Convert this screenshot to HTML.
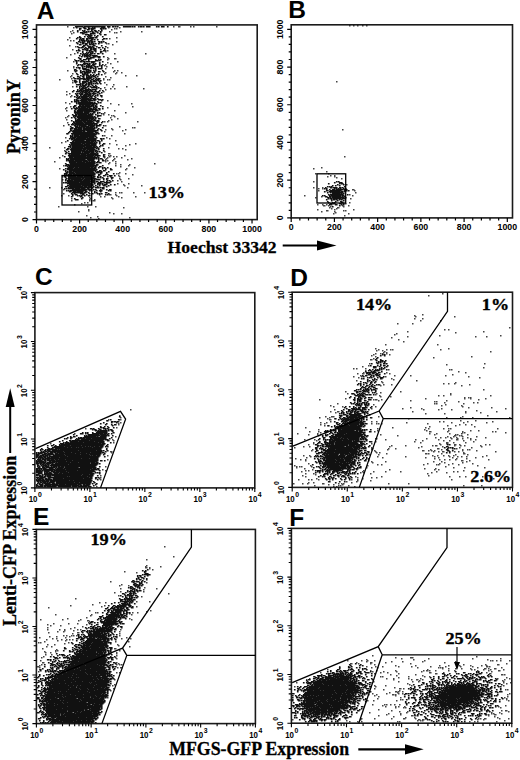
<!DOCTYPE html><html><head><meta charset="utf-8"><style>
html,body{margin:0;padding:0;background:#fff}
body{width:520px;height:760px;overflow:hidden}
svg{display:block}
text{font-family:"Liberation Sans",sans-serif}
.tl text{font-size:8.8px;text-anchor:middle;fill:#000;font-weight:bold}
.tl .sp{font-size:8px}
.lg text{font-size:9.2px}
.pl text{font-family:"Liberation Sans",sans-serif;font-weight:bold;font-size:24.5px}
.pc text{font-family:"Liberation Serif",serif;font-weight:bold;font-size:17.5px;stroke:#000;stroke-width:.35px}
.ax text{font-family:"Liberation Serif",serif;font-weight:bold;font-size:18px;stroke:#000;stroke-width:.3px}
</style></head><body><svg width="520" height="760" viewBox="0 0 520 760">
<path transform="translate(.75 .75)" stroke="#444" stroke-width="1.55" stroke-linecap="square" fill="none" d="M0 0m349 25h0m4 0h0m4 0h0m5 0h0m4 0h0m-299 1h0m106 0h0m5 0h1m11 0h0m3 0h0m23 0h0m-143 1h0m35 0h0m11 0h0m-5 1h0m2 0h0m-5 1h0m-39 1h0m-2 1h0m39 0h0m11 0h0m21 0h0m-68 1h0m41 0h0m2 0h0m-45 1h0m-2 4h0m47 0h0m-7 1h0m-42 1h0m3 1h0m3 0h0m43 1h0m-10 2h0m2 0h0m4 1h0m-43 1h0m6 1h0m32 1h0m-35 2h0m33 1h0m2 0h0m-2 1h0m-31 2h0m40 0h0m31 0h0m-75 1h0m-4 3h0m41 0h0m1 1h0m6 0h1m-41 1h0m33 0h0m-34 2h0m44 0h0m-10 1h0m3 1h0m-5 1h0m-1 1h0m-31 1h0m33 0h0m-33 1h0m39 0h0m-7 1h0m-38 2h0m47 0h0m3 0h0m-4 1h0m-8 1h0m11 0h0m5 0h0m-49 1h0m32 0h0m11 0h0m-44 2h0m54 0h0m11 0h0m-66 1h0m35 0h0m5 1h0m-39 1h0m32 0h0m-44 1h0m44 0h0m4 0h0m2 0h0m-37 1h0m264 1h0m-264 1h0m32 0h0m2 2h0m7 0h0m-41 2h0m40 0h0m14 0h0m-22 1h0m6 1h0m4 0h0m29 0h0m-38 1h0m-39 2h0m37 0h0m-34 2h0m-3 1h0m5 1h0m-1 1h0m37 4h0m-42 2h0m4 1h0m41 0h0m21 0h0m-13 1h0m-48 2h0m62 0h0m-66 1h0m41 0h0m-42 1h0m1 2h0m48 0h0m-10 2h0m21 0h0m-22 1h0m0 1h0m5 0h0m-40 1h0m43 0h0m2 0h0m-46 1h0m47 0h0m-49 1h0m45 0h0m7 1h0m-51 1h0m45 0h0m-3 1h0m-4 1h0m3 0h0m30 0h0m-70 1h0m-4 3h0m42 0h0m14 1h0m13 1h0m2 0h0m-23 1h0m-6 1h0m7 0h0m13 0h0m217 0h0m-220 1h0m-18 1h0m-38 2h0m58 0h0m-20 2h0m7 0h0m-46 2h0m41 0h0m3 1h0m6 2h0m-50 1h0m-4 1h0m43 1h0m5 0h0m26 0h0m-19 1h0m13 0h0m-4 1h0m-76 2h0m15 0h0m44 0h0m10 1h0m4 0h0m3 1h0m-61 1h0m40 1h0m4 2h1m-5 1h0m-42 1h0m46 0h0m2 0h0m14 0h0m-20 1h0m5 0h0m4 0h0m3 0h0m228 0h0m-285 1h0m45 0h0m3 0h0m14 0h0m-15 1h0m8 0h0m17 0h0m-26 1h0m8 0h0m14 0h0m-22 1h0m2 0h0m5 0h0m-58 1h0m51 0h0m10 0h0m-6 1h0m-1 1h0m7 0h0m39 0h0m-34 1h0m9 0h0m-66 1h0m52 0h0m13 0h0m-8 1h0m14 1h0m187 0h0m-262 1h0m67 0h0m187 0h0m-188 1h0m201 2h0m-207 1h0m-3 1h0m2 0h0m7 0h0m190 0h0m13 0h0m-196 1h0m-14 1h0m212 0h0m4 0h0m-272 1h0m57 0h0m208 0h0m7 0h0m2 1h0m-217 1h0m9 0h0m213 0h0m-279 1h0m58 0h0m-3 1h0m4 1h0m192 0h0m-196 2h0m11 0h0m-5 1h0m223 0h0m-222 1h0m17 0h0m-92 2h0m12 0h0m66 0h0m186 0h0m9 0h0m-4 1h0m4 0h0m-259 1h0m289 0h1m-35 1h0m36 0h0m-239 2h0m4 0h0m2 0h0m12 0h0m11 0h0m211 0h0m-292 1h0m46 1h1m5 0h0m234 0h0m-288 1h0m7 0h0m48 0h0m188 0h0m48 0h0m-252 1h0m4 0h0m14 0h0m17 0h0m186 0h0m-232 1h0m22 0h0m10 0h0m194 0h0m-244 1h0m19 0h0m22 0h0m238 0h0m-261 1h0m5 0h0m-23 1h0m18 0h0m2 0h0m2 0h1m-10 2h0m3 0h0m262 0h0m-268 1h0m264 0h0m-271 1h0m243 0h0m5 0h0m4 0h0m-3 1h1m4 0h0m14 0h0m6 0h0m-290 1h0m29 0h0m8 0h0m235 0h0m13 0h0m-220 1h0m206 0h0m8 0h1m-7 1h0m5 0h0m-248 1h0m229 0h0m17 0h0m19 0h0m-265 1h0m238 0h1m16 0h0m2 0h0m-267 1h0m243 0h0m13 0h0m-225 1h0m226 0h0m-222 1h0m8 0h0m212 0h0m15 0h0m-262 2h0m258 0h0m-247 1h0m-7 1h0m39 0h0m-31 1h0m344 75h0m-14 2h0m-6 19h0m-8 1h0m1 1h0m39 0h0m-40 2h0m8 0h0m-2 2h0m20 0h0m-43 3h0m15 0h0m97 4h0m-65 2h0m4 0h0m-41 2h0m76 0h0m-28 1h0m-59 1h0m-2 1h0m45 1h0m61 0h0m-93 1h0m68 0h0m11 0h0m-95 1h0m7 2h0m5 2h0m-18 3h0m52 0h0m-62 4h0m73 0h0m-70 1h0m8 0h0m4 0h0m2 0h0m48 0h0m-64 1h0m6 0h0m2 1h0m106 0h0m-107 1h0m3 0h0m-11 1h0m5 0h0m2 0h0m4 0h0m-13 1h0m16 0h0m-18 1h0m4 1h0m96 0h0m-38 1h0m-60 1h0m-3 1h1m-2 4h0m115 0h0m-38 1h0m-78 1h0m-6 1h0m121 1h0m-130 1h0m3 0h0m9 0h0m23 1h0m61 0h0m2 0h0m-86 1h0m93 1h0m-95 1h0m23 0h0m79 0h0m-108 1h0m5 0h1m26 0h0m63 1h0m-92 1h0m34 0h0m16 0h0m35 0h0m-92 1h0m8 0h0m24 0h0m83 0h0m-110 1h0m121 0h0m-88 1h0m2 1h0m-37 1h0m60 0h0m-35 1h0m1 1h0m73 0h0m-12 1h0m5 0h0m6 0h0m-75 1h0m4 0h0m8 0h0m78 0h0m-89 1h0m81 0h0m22 4h0m-138 2h0m55 0h0m-20 1h0m-33 1h0m4 0h0m25 0h0m74 0h0m-75 1h0m75 0h0m-71 1h0m59 0h0m5 0h0m47 0h0m-110 1h0m10 0h0m74 1h0m4 0h0m2 0h0m-125 1h0m80 0h0m39 0h0m6 0h0m15 0h0m-166 1h0m54 0h0m2 0h1m5 0h0m97 0h0m-100 1h0m32 0h0m36 0h0m-12 1h0m2 0h0m22 0h0m-14 1h0m29 0h0m4 0h0m-140 1h0m97 0h0m2 0h0m27 0h0m-90 1h0m72 0h0m-115 1h0m111 0h0m20 0h0m-128 1h0m9 0h0m33 0h0m87 0h0m-52 1h0m58 0h0m23 0h0m-120 1h0m31 0h0m19 0h0m20 0h0m64 0h0m-375 1h0m204 0h0m89 0h0m15 0h0m13 0h0m25 1h0m-146 1h0m7 0h1m74 0h0m53 0h0m31 0h0m-161 1h0m130 0h0m15 0h0m-55 1h0m19 0h0m-325 2h0m368 0h0m-162 1h0m6 0h2m45 0h0m84 0h0m-342 1h0m199 0h0m10 0h0m42 0h0m75 0h0m14 0h0m12 0h0m37 0h0m-182 1h0m7 0h0m74 0h0m-300 1h0m11 0h1m209 0h1m-224 1h0m354 0h0m15 0h0m-357 1h0m212 0h0m41 0h0m5 0h0m63 0h0m4 0h0m24 0h0m25 0h0m-372 1h0m200 0h0m6 0h0m80 0h0m45 0h0m12 0h0m23 0h0m-368 1h0m206 0h0m47 0h0m5 0h0m2 0h0m3 0h0m46 0h0m-309 1h0m202 0h0m139 0h0m6 0h0m6 0h0m-147 1h0m3 0h0m120 0h0m8 0h0m-26 1h0m45 0h0m-358 1h0m189 0h0m87 0h0m33 0h0m-340 1h0m292 0h0m51 0h0m15 0h0m5 0h0m2 0h0m47 0h0m-179 1h0m106 0h0m-47 1h0m49 0h0m22 0h0m22 0h0m8 0h0m-169 1h0m9 0h0m56 0h0m55 0h1m17 0h0m15 0h0m30 0h0m3 0h0m-175 1h0m142 0h0m2 0h0m41 0h0m-431 1h0m223 0h0m20 0h0m112 0h0m7 0h0m13 0h0m12 0h0m-153 1h0m9 0h0m3 0h0m60 0h0m54 0h0m21 0h0m2 0h0m10 0h0m-149 1h0m79 0h0m57 0h1m4 0h0m2 0h0m-346 1h0m332 0h0m6 0h0m9 0h0m14 0h0m-41 1h0m5 0h0m5 0h0m5 0h0m6 0h0m11 0h0m18 0h0m-110 1h1m50 0h0m25 0h0m6 0h0m5 0h0m8 0h0m-358 1h0m192 0h0m10 0h0m71 0h0m30 0h0m23 0h0m18 0h1m13 0h0m5 0h0m-362 1h0m203 0h0m106 0h0m21 0h0m6 0h0m14 0h0m-92 1h0m4 0h0m39 0h0m59 0h0m-360 1h0m200 0h0m107 0h0m26 0h1m6 0h0m12 0h0m-415 1h0m263 0h0m58 0h0m68 0h0m7 0h1m-139 1h0m132 0h0m14 0h1m4 0h0m26 0h0m4 0h0m-98 1h0m14 0h0m27 0h0m3 0h1m18 0h0m6 0h0m4 0h0m16 0h0m-177 1h0m6 0h0m80 0h0m32 0h0m21 0h0m39 0h0m-187 1h0m77 0h0m47 0h0m41 0h0m12 0h0m-100 1h1m16 0h0m7 0h0m42 0h1m18 0h0m-144 1h0m59 0h0m16 0h0m43 0h0m11 0h0m21 0h0m5 0h0m2 0h0m-158 1h0m63 0h0m48 0h1m5 0h0m3 0h0m3 0h0m28 0h0m14 0h0m-366 1h1m264 0h0m58 0h0m5 0h0m4 0h1m11 0h0m4 0h0m37 0h0m-384 1h0m265 0h0m3 0h0m84 0h0m-77 1h0m39 0h1m2 0h0m13 0h0m22 0h1m-95 1h0m9 0h0m77 0h0m12 0h0m-360 1h0m196 0h0m6 0h0m123 0h0m5 0h0m6 0h0m5 0h0m5 0h0m33 0h0m-176 1h0m67 0h0m28 0h0m29 0h0m15 0h0m8 0h0m4 0h0m5 0h0m16 0h0m-176 1h0m76 0h0m43 0h0m13 0h0m14 0h0m23 0h0m-180 1h0m73 0h0m66 0h0m22 0h0m10 0h0m-359 1h0m193 0h0m5 0h0m63 0h0m71 0h0m5 0h0m5 0h0m6 0h0m33 0h0m-183 1h0m63 0h0m93 0h1m7 0h0m-98 1h0m14 0h0m48 0h0m8 0h0m25 0h0m-94 1h0m72 0h0m18 0h0m-154 1h0m119 0h0m12 0h0m13 0h0m20 0h0m-95 1h0m4 0h0m42 0h0m13 0h0m2 0h0m10 0h0m10 0h0m-164 1h0m16 0h0m57 0h0m110 0h0m-372 1h0m191 0h0m3 0h0m2 0h0m10 0h0m134 0h0m-149 1h0m70 0h0m87 0h0m11 0h0m20 0h0m-180 1h0m120 0h0m11 0h0m-333 1h0m210 0h0m77 0h0m45 0h0m4 0h0m-333 1h0m200 0h0m3 0h0m55 0h0m100 0h0m-162 1h0m61 0h0m11 0h0m12 0h0m15 0h0m36 0h0m17 0h0m4 0h0m-97 1h0m3 0h0m68 0h0m15 0h0m-141 1h0m8 0h0m57 0h0m57 0h0m-112 1h0m-215 1h0m202 0h0m126 0h0m-123 1h0m50 0h0m26 0h0m68 0h0m10 0h0m6 0h0m17 0h0m-382 1h0m257 0h0m14 0h0m5 0h0m-277 1h0m217 0h0m46 0h0m131 0h0m-393 1h0m198 0h0m10 0h0m3 0h0m7 0h0m33 0h0m6 0h0m94 0h0m-94 1h0m13 0h0m-24 1h0m10 0h0m-48 1h0m5 0h0m38 0h0m-58 1h0m9 0h0m5 0h0m15 0h1m15 0h0m3 0h0m2 0h0m45 0h0m20 0h0m-80 1h0m5 0h0m9 0h0m-28 1h0m24 0h0m2 0h0m8 0h0m115 0h0m18 0h0m-385 1h0m237 0h0m3 0h0m18 0h0m-190 60h0m9 10h0m-27 3h0m0 6h0m-1 1h0m15 0h0m-15 1h1m3 0h0m0 1h0m3 1h0m-28 2h0m12 1h0m-4 8h0m-22 1h0m21 0h0m15 1h0m-25 2h0m-2 1h0m9 0h0m16 2h0m-24 1h0m36 0h0m-13 1h0m-23 2h0m23 0h0m-29 1h0m54 1h0m-50 2h0m23 1h0m-66 2h0m61 3h0m13 0h0m-50 1h0m6 0h0m-13 2h0m-22 1h0m34 0h0m-3 1h0m35 0h0m-88 1h0m41 3h0m61 0h0m-4 1h0m-51 1h0m2 0h0m35 0h0m5 0h0m-8 1h0m-74 1h0m36 0h0m40 0h0m-41 1h0m-4 2h0m-19 1h0m62 0h0m-89 1h0m22 0h0m18 0h0m51 0h0m-53 1h0m9 0h1m1 1h0m-1 1h0m-35 1h0m15 0h0m9 0h0m-30 1h0m39 0h0m-36 1h0m10 0h0m22 1h0m-35 1h0m27 0h0m-4 1h0m-23 1h0m12 0h0m5 0h0m13 0h0m3 0h0m40 0h0m-56 1h0m9 0h0m-16 1h0m6 0h0m56 0h0m-71 1h0m29 0h1m-6 1h0m47 0h0m-42 1h0m-14 1h0m3 0h0m5 0h0m2 0h0m3 0h0m43 0h0m-70 1h0m7 0h0m13 0h0m-30 1h0m26 0h0m51 0h0m10 0h0m-74 1h0m4 0h0m65 0h0m9 0h0m-84 1h0m15 0h0m5 0h0m3 0h0m3 0h0m-15 1h0m8 0h0m-21 1h0m71 0h0m13 0h0m-90 1h0m2 0h0m28 0h0m-4 1h0m-17 1h0m7 0h0m63 0h0m1 1h0m-72 1h0m5 0h0m78 0h0m-87 2h0m72 0h1m-59 1h0m-1 1h0m2 0h0m62 0h0m-75 1h0m11 0h0m-10 1h0m5 0h0m66 0h0m0 1h0m-71 1h0m6 0h0m65 1h0m256 0h0m-329 1h0m433 0h0m-435 1h0m74 0h0m280 0h0m15 0h2m-296 1h0m285 0h0m27 0h0m44 0h0m28 0h0m-134 1h0m47 0h0m74 0h0m-447 1h0m307 0h0m14 0h0m6 0h0m7 0h0m50 0h0m66 0h0m2 0h0m4 0h0m4 0h0m9 0h0m-143 1h0m25 0h0m11 0h0m20 0h0m33 0h0m-413 1h1m73 0h0m240 0h0m14 0h1m14 0h0m59 0h0m-326 1h0m232 0h1m7 0h0m12 0h0m40 0h0m96 0h0m-465 1h0m75 0h0m3 0h0m2 0h0m253 0h0m89 0h0m22 0h0m12 0h1m-459 1h0m356 0h0m20 0h0m24 0h0m9 0h0m11 0h0m11 0h0m11 0h0m5 0h0m-449 1h1m301 0h0m27 0h0m9 0h0m7 0h0m16 0h0m13 0h0m19 0h0m15 0h0m15 0h0m12 0h0m14 0h1m2 0h0m-450 1h0m78 0h0m3 0h1m250 0h0m6 0h0m40 0h0m21 0h0m2 0h0m2 0h0m14 0h0m21 0h0m24 0h0m-59 1h0m6 0h0m7 0h0m6 0h0m9 0h0m14 0h1m3 0h0m6 0h1m-456 1h0m288 0h0m100 0h0m44 0h0m3 0h0m9 0h0m7 0h0m13 0h0m-133 1h0m6 0h0m19 0h0m28 0h0m3 0h1m2 0h0m6 0h0m13 0h0m6 0h0m23 0h0m11 0h0m10 0h1m-461 1h0m334 0h0m11 0h0m13 0h0m25 0h0m70 0h0m-375 1h0m3 0h0m201 0h0m60 0h0m7 0h0m42 0h1m13 0h0m43 0h0m-112 1h0m24 0h0m37 0h1m53 0h1m-100 1h0m25 0h0m86 0h1m2 0h0m-108 1h0m26 0h0m-109 1h0m67 0h0m2 0h0m26 0h0m16 0h0m5 0h0m-31 1h0m108 0h0m-197 1h0m77 0h0m7 0h0m15 0h0m12 0h0m77 0h0m12 0h0m-395 1h0m192 0h0m87 0h0m18 0h0m5 0h1m5 0h0m82 0h0m-85 1h0m83 0h0m-129 1h0m25 0h0m14 0h0m6 0h0m85 0h0m-207 1h0m207 0h0m7 0h0m-103 1h0m99 0h0m-392 1h0m295 0h0m-297 1h0m262 0h0m11 0h0m26 0h0m92 0h0m-209 1h0m81 0h0m19 1h0m-281 1h0m261 0h0m25 0h1m3 0h0m-20 1h0m122 0h0m2 0h0m-397 1h0m289 0h0m-29 1h0m25 0h1m2 0h0m4 0h0m-13 1h0m8 0h0m-25 1h0m14 0h0m12 0h0m4 0h0m107 0h0m-141 1h0m8 0h0m16 0h1m2 0h0m112 0h0m-133 1h0m21 0h0m-17 1h0m129 0h0m-400 1h0m293 0h0m104 0h0m-127 1h0m129 0h0m-106 1h0m2 0h0m104 0h0m-139 1h0m6 0h0m23 0h0m112 0h0m-136 4h0m12 0h0m2 0h0m4 0h0m4 0h0m5 0h0m-17 1h0m123 0h0m-120 1h0m10 0h0m3 0h0m6 0h0m94 0h0m-103 1h0m8 0h0m2 0h0m95 0h0m-122 2h0m13 1h0m110 0h0m4 0h1m-107 1h0m8 0h0m101 0h0m-139 1h0m37 0h0m85 0h0m8 0h0m-111 1h0m12 0h0m91 0h0m2 0h0m8 0h0m-115 1h0m14 0h0m86 0h0m2 0h0m6 0h1m-117 1h0m33 0h1m2 0h1m73 0h0m-95 1h0m101 0h0m-89 1h0m9 0h0m83 0h0m-136 1h0m13 0h0m17 0h0m12 0h1m11 0h0m63 0h0m2 0h0m4 0h1m14 0h0m9 0h0m-216 1h0m68 0h0m58 0h1m3 0h1m54 0h0m6 0h0m-137 1h0m71 0h0m3 0h0m2 0h0m82 0h0m-155 1h0m8 0h0m4 0h0m36 0h0m2 0h0m70 0h0m5 0h0m3 0h0m19 0h0"/>
<path transform="translate(.75 .75)" stroke="#111" stroke-width="1.7" stroke-linecap="square" fill="none" d="M0 0m75 26h7m2 0h20m3 0h2m3 0h1m2 0h0m2 0h0m6 0h7m2 0h0m2 0h0m4 0h0m2 0h1m2 0h0m3 0h3m7 0h0m2 0h0m3 0h2m4 0h0m-91 1h0m7 0h1m4 0h0m4 0h0m2 0h0m7 0h3m-25 1h1m4 0h1m3 0h1m2 0h3m6 0h1m2 0h0m2 0h0m-26 1h0m8 0h1m3 0h1m9 0h0m-24 1h0m5 0h0m2 0h0m7 0h0m3 0h1m3 0h0m3 0h0m-24 1h0m6 0h1m2 0h0m2 0h0m2 0h0m2 0h0m3 0h1m4 0h0m-20 1h2m2 0h2m6 0h1m4 0h0m3 0h0m-18 1h1m7 0h4m5 0h0m-14 1h3m2 0h0m10 0h0m4 0h1m-17 1h3m3 0h0m3 0h0m-18 1h0m5 0h0m3 0h0m2 0h1m6 0h0m6 0h0m-25 1h0m2 0h1m8 0h0m2 0h3m2 0h1m-20 1h0m4 0h0m2 0h1m3 0h1m2 0h3m11 0h1m2 0h0m-27 1h0m2 0h0m2 0h0m3 0h1m4 0h1m2 0h0m3 0h0m5 0h0m-23 1h0m2 0h3m2 0h0m2 0h0m2 0h1m-13 1h1m3 0h0m2 0h0m3 0h2m2 0h1m2 0h0m4 0h1m2 0h0m2 0h0m-27 1h0m4 0h0m2 0h1m4 0h0m2 0h0m2 0h1m7 0h0m2 0h0m4 0h0m-28 1h0m5 0h1m2 0h1m3 0h0m2 0h0m2 0h0m2 0h0m3 0h0m-19 1h1m5 0h1m3 0h1m2 0h1m-10 1h1m3 0h0m6 0h1m7 0h0m-24 1h0m5 0h1m5 0h2m2 0h0m4 0h0m9 0h0m-27 1h1m2 0h1m3 0h0m3 0h3m2 0h0m5 0h1m3 0h0m-18 1h0m2 0h1m3 0h1m2 0h2m9 0h0m-26 1h0m4 0h1m2 0h0m2 0h0m3 0h1m2 0h2m5 0h0m4 0h0m-28 1h0m2 0h1m7 0h1m2 0h1m4 0h1m8 0h1m-22 1h0m7 0h0m2 0h1m3 0h0m5 0h1m-24 1h0m5 0h0m4 0h0m2 0h0m2 0h0m2 0h0m8 0h0m-20 1h0m3 0h0m2 0h0m2 0h0m3 0h2m2 0h0m3 0h1m4 0h0m-20 1h0m2 0h0m2 0h1m2 0h1m-11 1h0m3 0h0m2 0h4m2 0h0m2 0h4m-15 1h0m3 0h0m2 0h1m2 0h0m4 0h2m2 0h2m4 0h0m-25 1h0m9 0h0m3 0h3m5 0h1m-20 1h1m6 0h4m-10 1h0m3 0h2m3 0h0m7 0h0m3 0h0m2 0h0m-25 1h1m2 0h0m3 0h1m6 0h0m7 0h2m2 0h0m-23 1h0m4 0h1m2 0h1m2 0h3m2 0h3m8 0h0m-26 1h0m8 0h0m7 0h2m6 0h0m-23 1h0m7 0h4m2 0h0m4 0h0m2 0h0m4 0h0m-21 1h0m2 0h0m2 0h0m2 0h0m3 0h2m3 0h2m5 0h0m3 0h0m-25 1h0m4 0h1m4 0h0m2 0h1m2 0h0m2 0h0m6 0h0m2 0h0m-19 1h0m2 0h0m2 0h5m3 0h1m2 0h0m4 0h0m-25 1h0m2 0h1m3 0h0m4 0h0m2 0h0m2 0h2m3 0h0m6 0h0m-22 1h0m3 0h3m5 0h0m3 0h0m2 0h0m3 0h3m-27 1h1m8 0h5m7 0h0m-21 1h0m2 0h0m4 0h0m6 0h0m2 0h2m3 0h0m2 0h0m7 0h0m-27 1h0m5 0h0m2 0h2m2 0h2m2 0h0m4 0h0m4 0h1m4 0h0m-23 1h1m3 0h5m3 0h0m2 0h0m-18 1h0m6 0h0m2 0h1m2 0h0m11 0h0m-21 1h0m5 0h2m2 0h1m3 0h0m3 0h0m3 0h0m2 0h0m3 0h0m-21 1h0m3 0h0m3 0h2m2 0h0m2 0h1m2 0h0m-18 1h1m4 0h1m3 0h0m2 0h1m2 0h0m2 0h1m3 0h0m-24 1h0m6 0h0m4 0h0m3 0h5m4 0h0m-21 1h1m2 0h1m2 0h4m2 0h4m3 0h0m3 0h0m2 0h1m-20 1h0m4 0h2m2 0h1m3 0h1m3 0h0m2 0h1m-24 1h1m4 0h0m7 0h0m2 0h0m2 0h0m3 0h1m2 0h0m2 0h0m2 0h0m-26 1h2m3 0h0m3 0h5m3 0h1m2 0h2m4 0h0m-24 1h0m4 0h0m3 0h3m3 0h3m5 0h0m3 0h0m-19 1h0m2 0h1m3 0h0m2 0h1m2 0h0m2 0h0m2 0h0m2 0h0m3 0h0m-24 1h4m2 0h0m3 0h1m2 0h1m2 0h0m-11 1h0m2 0h3m3 0h0m4 0h0m3 0h0m-19 1h0m3 0h0m2 0h0m2 0h1m3 0h1m2 0h0m3 0h1m2 0h0m-17 1h0m3 0h1m2 0h1m5 0h5m2 0h0m-19 1h0m2 0h4m3 0h0m8 0h0m4 0h0m-23 1h0m3 0h2m3 0h5m2 0h3m-22 1h0m4 0h0m2 0h2m2 0h5m2 0h1m4 0h0m4 0h0m3 0h0m-30 1h0m4 0h3m2 0h2m2 0h2m2 0h0m2 0h1m2 0h2m2 0h0m-18 1h0m2 0h0m2 0h2m2 0h1m4 0h0m4 0h1m3 0h0m-26 1h0m2 0h0m2 0h0m2 0h1m3 0h2m2 0h1m2 0h3m4 0h0m-23 1h0m4 0h2m2 0h6m3 0h0m4 0h0m-21 1h1m3 0h0m3 0h3m2 0h2m2 0h0m3 0h0m2 0h0m3 0h1m-27 1h0m3 0h0m2 0h0m2 0h7m2 0h1m3 0h0m7 0h0m-25 1h0m2 0h1m2 0h5m3 0h0m2 0h0m4 0h0m-18 1h1m2 0h0m2 0h6m2 0h4m3 0h0m-23 1h0m2 0h0m5 0h9m3 0h2m3 0h2m2 0h0m-28 1h0m2 0h2m2 0h6m2 0h4m2 0h0m7 0h0m-30 1h0m3 0h2m2 0h0m3 0h6m2 0h0m8 0h0m-21 1h0m2 0h14m2 0h0m4 0h0m2 0h0m-24 1h0m2 0h18m-17 1h11m2 0h1m3 0h0m-22 1h1m4 0h1m2 0h1m2 0h4m2 0h2m2 0h0m5 0h0m-27 1h1m4 0h13m2 0h0m2 0h1m6 0h0m-29 1h0m3 0h0m2 0h1m2 0h4m2 0h2m4 0h1m2 0h0m-25 1h0m3 0h3m2 0h8m2 0h2m2 0h0m2 0h0m3 0h1m3 0h0m-27 1h0m3 0h18m3 0h0m-25 1h0m3 0h13m2 0h0m3 0h2m-23 1h1m2 0h5m2 0h10m-20 1h8m2 0h4m5 0h1m3 0h0m2 0h0m-24 1h0m2 0h11m2 0h0m2 0h0m5 0h0m4 0h0m-29 1h0m3 0h1m2 0h8m2 0h4m3 0h0m-22 1h3m2 0h13m6 0h3m-27 1h0m2 0h0m2 0h15m2 0h0m3 0h0m-26 1h0m3 0h0m3 0h16m2 0h0m-20 1h0m3 0h15m2 0h0m3 0h1m-24 1h0m2 0h2m2 0h6m2 0h0m2 0h1m2 0h0m-23 1h0m4 0h16m2 0h2m2 0h1m-25 1h0m2 0h6m2 0h2m2 0h5m4 0h2m4 0h0m-29 1h1m2 0h6m2 0h7m2 0h0m4 0h0m4 0h0m-29 1h0m2 0h9m2 0h11m-28 1h0m3 0h2m2 0h17m2 0h0m2 0h0m3 0h1m-26 1h1m2 0h0m2 0h6m3 0h6m2 0h3m4 0h0m-33 1h0m5 0h2m2 0h0m2 0h7m2 0h3m3 0h0m-25 1h1m3 0h6m2 0h1m2 0h6m2 0h0m2 0h0m6 0h0m-32 1h2m2 0h2m2 0h3m2 0h11m4 0h0m-28 1h0m4 0h7m2 0h10m4 0h0m3 0h0m-30 1h1m2 0h11m2 0h11m4 0h0m-32 1h0m3 0h9m2 0h1m3 0h8m-27 1h0m5 0h19m3 0h2m-30 1h0m4 0h23m2 0h0m2 0h0m-26 1h0m2 0h21m-25 1h0m2 0h0m2 0h4m2 0h14m8 0h0m-32 1h2m2 0h19m2 0h0m-25 1h0m2 0h3m2 0h10m2 0h4m3 0h0m-27 1h0m2 0h3m2 0h9m2 0h8m5 0h1m2 0h0m-32 1h1m2 0h21m6 0h0m-34 1h0m6 0h10m3 0h9m2 0h1m3 0h0m-29 1h1m2 0h14m2 0h2m2 0h0m4 0h0m-29 1h22m2 0h0m2 0h0m3 0h0m-28 1h9m2 0h2m2 0h9m4 0h0m4 0h0m-34 1h0m2 0h11m2 0h5m2 0h4m7 0h0m-32 1h0m2 0h23m5 0h0m2 0h0m-34 1h2m2 0h12m2 0h5m2 0h1m2 0h0m3 0h0m-29 1h0m2 0h10m2 0h11m2 0h0m-30 1h1m3 0h22m3 0h0m2 0h0m5 0h0m-37 1h1m3 0h11m2 0h2m2 0h7m4 0h0m-27 1h13m2 0h1m2 0h4m2 0h1m7 0h0m-38 1h0m3 0h0m3 0h9m2 0h11m2 0h0m2 0h0m2 0h0m-33 1h0m5 0h9m2 0h0m2 0h5m2 0h2m3 0h0m5 0h0m-36 1h0m3 0h20m2 0h5m2 0h0m-28 1h0m2 0h8m2 0h4m2 0h10m6 0h0m-35 1h25m2 0h4m4 0h0m-39 1h0m5 0h16m2 0h5m2 0h0m3 0h0m6 0h0m-34 1h3m2 0h22m2 0h0m-32 1h0m2 0h0m2 0h24m2 0h0m2 0h0m2 0h1m-35 1h2m2 0h14m3 0h6m5 0h0m4 0h0m-36 1h0m2 0h5m2 0h11m2 0h5m5 0h0m4 0h1m-34 1h12m2 0h4m2 0h0m2 0h3m3 0h1m-29 1h6m2 0h7m2 0h8m2 0h1m2 0h1m-35 1h0m5 0h24m-28 1h2m2 0h23m3 0h1m-32 1h1m2 0h28m6 0h0m-35 1h0m2 0h24m2 0h0m4 0h1m-32 1h5m2 0h2m2 0h10m2 0h1m2 0h1m3 0h0m4 0h0m2 0h0m3 0h0m-42 1h0m2 0h5m2 0h21m7 0h0m3 0h0m5 0h0m-47 1h0m4 0h27m2 0h0m9 0h0m5 0h1m-46 1h0m4 0h26m4 0h1m3 0h1m-39 1h0m2 0h0m2 0h2m2 0h19m3 0h0m2 0h2m2 0h0m7 0h0m-42 1h1m2 0h4m2 0h18m3 0h2m2 0h1m5 0h0m-42 1h2m3 0h5m2 0h18m6 0h0m6 0h0m7 0h0m-49 1h0m2 0h0m2 0h3m2 0h21m4 0h1m6 0h0m2 0h0m-43 1h0m3 0h13m2 0h11m5 0h0m5 0h1m5 0h2m3 0h0m-50 1h1m3 0h7m2 0h5m2 0h7m2 0h1m3 0h0m3 0h0m7 0h0m3 0h0m-45 1h0m3 0h25m4 0h1m2 0h0m2 0h0m9 0h1m-46 1h0m2 0h12m2 0h1m2 0h10m8 0h0m3 0h1m4 0h0m-46 1h0m3 0h1m2 0h11m2 0h8m2 0h0m2 0h3m4 0h0m3 0h0m-41 1h0m2 0h5m2 0h7m2 0h6m2 0h3m13 0h0m2 0h0m3 0h0m-45 1h27m2 0h1m3 0h3m3 0h0m4 0h0m226 0h0m2 0h0m-275 1h0m2 0h1m2 0h10m2 0h9m2 0h3m4 0h2m4 0h5m225 0h0m5 0h2m-274 1h24m3 0h0m3 0h3m2 0h0m4 0h0m222 0h0m11 0h0m2 0h1m-273 1h23m5 0h0m2 0h0m3 0h0m2 0h2m4 0h0m4 0h0m223 0h0m6 0h0m-276 1h1m2 0h10m2 0h10m3 0h0m4 0h0m4 0h1m4 0h0m224 0h0m3 0h0m4 0h0m-274 1h1m3 0h13m2 0h2m2 0h2m3 0h0m4 0h0m9 0h0m221 0h0m2 0h0m2 0h0m13 0h0m-276 1h0m2 0h20m2 0h0m3 0h3m2 0h0m2 0h1m222 0h0m5 0h1m2 0h3m3 0h1m2 0h0m-278 1h0m2 0h0m2 0h5m2 0h4m2 0h3m3 0h1m3 0h0m11 0h1m221 0h0m2 0h0m8 0h0m2 0h0m2 0h0m2 0h0m3 0h0m2 0h0m-273 1h14m2 0h2m3 0h0m2 0h0m5 0h0m6 0h0m3 0h1m216 0h0m3 0h0m3 0h2m2 0h6m2 0h2m-280 1h0m2 0h0m2 0h15m4 0h0m2 0h0m5 0h0m3 0h2m7 0h0m2 0h0m216 0h1m3 0h10m4 0h2m2 0h0m-279 1h1m3 0h2m2 0h5m3 0h1m8 0h0m6 0h0m224 0h0m5 0h10m2 0h1m2 0h0m-272 1h10m2 0h1m3 0h0m6 0h0m2 0h0m9 0h1m221 0h0m3 0h0m2 0h10m-271 1h0m3 0h0m6 0h3m6 0h0m3 0h0m5 0h0m2 0h0m2 0h0m7 0h0m224 0h7m2 0h0m2 0h0m-271 1h0m3 0h1m6 0h1m3 0h0m13 0h0m6 0h0m2 0h0m221 0h0m2 0h12m5 0h0m-275 1h0m5 0h0m2 0h0m2 0h0m3 0h0m4 0h1m233 0h0m2 0h0m5 0h0m2 0h9m2 0h1m-272 1h0m9 0h1m244 0h1m3 0h1m2 0h8m2 0h0m2 0h0m-262 1h0m245 0h1m2 0h0m2 0h11m2 0h0m-271 1h0m7 0h0m247 0h0m2 0h1m2 0h7m2 0h2m-269 1h2m249 0h0m5 0h0m2 0h1m2 0h0m3 0h0m2 0h0m-10 1h0m6 0h0m6 0h0m-16 1h0m8 0h0m5 0h1m-13 1h0m4 0h0m2 0h0m7 0h1m-12 1h1m2 0h1m5 0h1m3 0h0m-14 1h2m4 0h1m5 0h0m2 0h0m-4 1h0m-7 1h0m50 148h0m2 0h0m-4 1h0m4 0h0m-7 2h0m-1 1h0m-1 1h0m5 0h0m-4 1h0m4 0h2m3 0h0m-7 1h0m2 0h0m2 0h0m2 0h0m-8 1h0m2 0h0m2 0h0m4 0h0m-13 1h0m6 0h0m6 0h1m2 0h0m-6 1h0m-10 1h0m7 0h0m3 0h0m3 0h1m3 0h0m-14 1h2m4 0h0m7 0h0m-13 1h2m6 0h0m3 0h0m-5 1h0m2 0h0m2 0h0m-14 1h0m3 0h0m3 0h0m2 0h0m2 0h0m2 0h0m5 0h0m-18 1h0m2 0h0m4 0h4m-13 1h0m6 0h0m2 0h1m7 0h0m-15 1h4m2 0h3m3 0h1m-13 1h1m2 0h0m3 0h1m3 0h1m7 0h0m-16 1h2m5 0h2m2 0h0m-17 1h0m3 0h1m5 0h0m2 0h0m3 0h2m-15 1h0m7 0h0m3 0h0m6 0h0m4 0h0m-16 1h0m2 0h0m2 0h0m6 0h0m3 0h2m-21 1h0m2 0h0m11 0h0m6 0h1m-14 1h0m5 0h0m2 0h0m2 0h0m-9 1h0m2 0h0m4 0h0m-13 1h0m7 0h0m4 0h0m4 0h0m-12 1h0m2 0h0m5 0h1m3 0h0m-16 1h0m2 0h0m6 0h0m4 0h0m-13 1h0m3 0h0m3 0h0m6 0h0m3 0h0m4 0h0m2 0h0m-18 1h0m6 0h1m4 0h0m3 0h0m-12 1h0m3 0h0m4 0h0m2 0h1m-11 1h0m2 0h1m4 0h0m5 0h1m-14 1h0m5 0h0m2 0h0m3 0h0m5 0h1m-20 1h0m2 0h0m2 0h0m3 0h0m2 0h3m3 0h0m2 0h1m-20 1h1m7 0h2m2 0h0m2 0h0m3 0h0m4 0h0m-19 1h1m2 0h1m3 0h2m2 0h0m8 0h0m-19 1h1m5 0h0m6 0h0m4 0h0m2 0h0m-22 1h1m6 0h0m2 0h0m2 0h1m-10 1h0m3 0h1m2 0h0m2 0h0m3 0h2m2 0h1m3 0h0m-18 1h2m2 0h4m-13 1h0m8 0h1m3 0h2m-15 1h0m5 0h0m4 0h0m2 0h0m5 0h0m3 0h1m2 0h0m-17 1h0m3 0h1m2 0h1m3 0h0m-11 1h1m3 0h3m8 0h2m-16 1h0m3 0h0m2 0h1m4 0h1m-8 1h0m2 0h1m7 0h0m-17 1h0m4 0h0m3 0h0m5 0h2m2 0h0m-15 1h0m2 0h0m3 0h1m2 0h0m2 0h0m3 0h0m2 0h0m2 0h0m-13 1h0m2 0h2m2 0h0m3 0h2m2 0h0m-12 1h0m2 0h2m5 0h0m2 0h0m-22 1h0m4 0h0m4 0h0m7 0h0m5 0h0m6 0h0m-27 1h0m9 0h0m2 0h0m3 0h1m3 0h4m4 0h0m-24 1h0m5 0h3m2 0h0m2 0h1m3 0h2m-21 1h0m5 0h1m3 0h8m2 0h0m2 0h1m3 0h0m-27 1h0m7 0h1m2 0h1m3 0h0m5 0h2m-20 1h0m4 0h0m2 0h0m2 0h0m2 0h0m2 0h1m2 0h1m3 0h2m2 0h0m2 0h0m-26 1h0m2 0h0m3 0h0m4 0h1m3 0h0m2 0h1m5 0h2m2 0h0m-27 1h0m2 0h0m2 0h0m4 0h0m2 0h1m4 0h1m2 0h3m4 0h0m3 0h0m-24 1h2m4 0h10m5 0h0m5 0h0m-30 1h2m5 0h1m3 0h11m5 0h0m-247 1h0m221 0h0m6 0h1m2 0h7m2 0h2m2 0h2m-25 1h0m4 0h1m3 0h12m2 0h1m4 0h0m4 0h0m-35 1h0m5 0h0m2 0h0m2 0h4m2 0h3m2 0h2m2 0h2m2 0h0m-253 1h0m8 0h0m220 0h0m3 0h0m2 0h15m3 0h0m2 0h0m3 0h0m-259 1h0m235 0h1m2 0h3m2 0h9m2 0h0m-250 1h1m2 0h1m2 0h0m217 0h0m7 0h1m2 0h2m3 0h9m2 0h1m2 0h1m-261 1h0m8 0h0m5 0h0m220 0h1m6 0h0m2 0h0m2 0h15m-262 1h0m6 0h0m230 0h0m3 0h0m3 0h16m2 0h3m2 0h1m-261 1h0m6 0h0m3 0h1m222 0h1m3 0h0m3 0h3m2 0h9m2 0h3m-251 1h0m216 0h0m6 0h0m5 0h9m2 0h6m2 0h3m3 0h0m-264 1h0m4 0h0m3 0h0m224 0h0m3 0h0m2 0h25m2 0h0m-263 1h1m2 0h0m5 0h0m5 0h0m222 0h0m2 0h0m3 0h19m-269 1h1m2 0h0m5 0h0m5 0h2m2 0h0m230 0h23m-268 1h0m2 0h1m4 0h1m5 0h0m3 0h0m2 0h1m219 0h0m5 0h0m3 0h2m2 0h18m2 0h0m2 0h0m2 0h0m4 0h0m-275 1h1m2 0h0m2 0h6m2 0h0m3 0h1m213 0h0m2 0h0m3 0h1m2 0h2m3 0h15m3 0h1m2 0h3m2 0h0m-267 1h9m6 0h0m212 0h3m3 0h0m5 0h0m3 0h19m2 0h2m8 0h1m-288 1h0m3 0h0m2 0h0m5 0h0m4 0h10m7 0h0m212 0h0m5 0h1m3 0h1m2 0h0m2 0h25m-284 1h2m3 0h0m2 0h0m5 0h10m2 0h2m2 0h0m3 0h0m218 0h0m3 0h0m5 0h8m2 0h13m3 0h0m-290 1h0m15 0h10m2 0h5m2 0h0m218 0h0m2 0h0m6 0h0m2 0h8m2 0h17m2 0h0m-288 1h0m8 0h0m2 0h0m2 0h11m2 0h5m2 0h0m4 0h0m210 0h0m3 0h1m5 0h1m3 0h26m3 0h1m2 0h0m-297 1h0m3 0h1m10 0h11m2 0h0m3 0h5m217 0h0m7 0h1m2 0h27m2 0h2m3 0h0m-299 1h0m3 0h1m7 0h0m2 0h1m2 0h22m6 0h0m212 0h1m6 0h6m2 0h2m2 0h16m3 0h1m2 0h0m-300 1h0m2 0h0m4 0h0m6 0h0m2 0h6m2 0h4m2 0h13m4 0h0m210 0h0m4 0h0m7 0h1m2 0h6m2 0h1m2 0h2m2 0h10m2 0h0m2 0h1m2 0h0m-290 1h0m2 0h1m3 0h22m2 0h2m211 0h0m5 0h0m2 0h0m2 0h0m2 0h3m2 0h13m2 0h9m2 0h1m2 0h0m2 0h1m-304 1h0m7 0h1m2 0h16m2 0h12m5 0h1m217 0h0m4 0h1m2 0h9m2 0h8m2 0h0m2 0h3m8 0h0m-307 1h0m7 0h0m4 0h7m2 0h14m2 0h8m216 0h0m5 0h1m4 0h5m2 0h15m2 0h9m2 0h0m5 0h1m-307 1h0m2 0h3m2 0h12m2 0h13m2 0h4m7 0h0m208 0h1m5 0h3m2 0h4m2 0h21m4 0h1m-301 1h3m2 0h35m2 0h2m213 0h0m4 0h0m4 0h0m2 0h6m2 0h22m3 0h3m3 0h0m-313 1h0m6 0h0m2 0h42m4 0h0m208 0h1m6 0h1m2 0h2m2 0h0m2 0h2m2 0h12m2 0h10m2 0h1m2 0h0m83 0h0m2 0h0m-402 1h0m4 0h1m3 0h0m4 0h10m2 0h9m2 0h20m4 0h0m211 0h1m2 0h0m2 0h0m4 0h21m2 0h5m2 0h5m8 0h0m-315 1h9m2 0h19m2 0h1m2 0h0m2 0h2m2 0h3m2 0h2m3 0h0m2 0h0m210 0h0m5 0h1m2 0h18m3 0h13m2 0h0m3 0h0m4 0h0m78 0h1m-400 1h0m5 0h14m2 0h2m2 0h3m2 0h0m2 0h2m2 0h8m2 0h8m214 0h1m4 0h0m8 0h0m2 0h21m2 0h6m3 0h1m2 0h0m79 0h0m4 0h0m2 0h0m2 0h0m-411 1h0m7 0h1m2 0h1m3 0h45m6 0h0m209 0h1m3 0h0m2 0h1m3 0h0m3 0h24m2 0h3m2 0h0m2 0h0m2 0h2m82 0h0m5 0h0m2 0h0m-414 1h0m2 0h0m3 0h0m2 0h9m2 0h0m2 0h40m6 0h0m210 0h0m5 0h0m2 0h1m3 0h7m2 0h20m2 0h0m88 0h1m-407 1h0m4 0h1m2 0h2m3 0h25m2 0h16m2 0h4m2 0h0m4 0h0m209 0h1m6 0h33m3 0h2m3 0h1m82 0h1m4 0h0m-411 1h0m2 0h0m2 0h1m2 0h14m2 0h37m4 0h0m210 0h0m6 0h0m4 0h32m2 0h0m8 0h1m81 0h0m-413 1h0m2 0h0m2 0h4m3 0h0m3 0h2m2 0h1m2 0h6m2 0h5m2 0h7m2 0h8m2 0h9m2 0h1m215 0h4m2 0h1m2 0h6m2 0h13m2 0h6m2 0h0m3 0h0m3 0h1m3 0h0m78 0h0m3 0h0m-413 1h0m2 0h3m3 0h2m2 0h4m3 0h2m2 0h15m2 0h9m2 0h13m4 0h0m212 0h2m5 0h15m2 0h9m2 0h5m2 0h0m2 0h0m2 0h1m3 0h0m-330 1h2m4 0h3m2 0h6m2 0h8m2 0h14m2 0h7m2 0h9m4 0h0m219 0h2m2 0h1m2 0h8m3 0h3m2 0h2m2 0h4m2 0h5m6 0h1m-331 1h2m2 0h3m2 0h2m2 0h0m4 0h11m2 0h23m2 0h0m2 0h2m2 0h2m216 0h0m2 0h0m3 0h0m4 0h13m2 0h5m3 0h6m2 0h0m3 0h1m3 0h0m3 0h0m-329 1h1m2 0h2m2 0h2m2 0h0m2 0h17m2 0h30m6 0h0m210 0h0m2 0h0m2 0h0m2 0h2m3 0h19m2 0h5m2 0h3m-320 1h0m2 0h4m2 0h1m2 0h2m2 0h7m2 0h37m226 0h31m2 0h0m2 0h0m5 0h0m3 0h0m-328 1h0m2 0h0m2 0h1m2 0h35m2 0h6m2 0h7m217 0h0m3 0h0m3 0h0m2 0h0m2 0h0m2 0h13m2 0h1m2 0h8m4 0h0m2 0h0m4 0h0m4 0h0m-329 1h3m2 0h3m2 0h2m2 0h2m2 0h2m2 0h5m2 0h31m221 0h0m5 0h1m2 0h8m2 0h7m2 0h5m2 0h0m2 0h0m6 0h0m5 0h0m-329 1h0m2 0h3m3 0h1m2 0h7m2 0h15m2 0h24m3 0h1m3 0h0m214 0h0m2 0h0m3 0h12m2 0h6m2 0h6m3 0h1m3 0h0m6 0h1m-329 1h7m2 0h0m4 0h1m2 0h13m2 0h29m219 0h0m3 0h3m4 0h25m2 0h2m-318 1h1m2 0h6m2 0h7m2 0h0m2 0h11m2 0h6m2 0h10m2 0h3m2 0h1m219 0h0m3 0h0m3 0h0m2 0h10m2 0h2m2 0h5m2 0h0m2 0h5m3 0h0m2 0h0m-323 1h2m2 0h1m2 0h1m2 0h4m2 0h0m3 0h34m2 0h6m2 0h0m220 0h1m2 0h19m2 0h6m2 0h3m3 0h0m-320 1h0m3 0h0m2 0h1m2 0h0m2 0h1m3 0h16m2 0h27m216 0h0m11 0h24m3 0h1m2 0h1m5 0h0m-322 1h1m3 0h0m2 0h3m2 0h0m2 0h45m225 0h0m3 0h0m2 0h0m2 0h11m2 0h8m2 0h1m4 0h0m3 0h0m-321 1h0m2 0h0m3 0h1m2 0h3m3 0h0m2 0h3m2 0h1m2 0h2m2 0h29m5 0h0m217 0h0m2 0h0m4 0h3m2 0h12m2 0h4m2 0h2m2 0h1m8 0h0m-322 1h1m3 0h2m2 0h8m2 0h0m2 0h5m2 0h12m3 0h15m218 0h0m6 0h0m3 0h1m3 0h19m2 0h3m3 0h0m4 0h0m2 0h1m-324 1h5m2 0h2m4 0h3m3 0h0m2 0h5m2 0h27m2 0h2m2 0h1m222 0h0m5 0h0m3 0h0m2 0h16m2 0h1m5 0h0m2 0h1m-321 1h1m2 0h0m2 0h0m2 0h11m2 0h8m2 0h23m2 0h5m2 0h0m224 0h0m2 0h1m2 0h0m2 0h11m2 0h0m5 0h1m2 0h0m2 0h1m3 0h0m-320 1h4m2 0h0m2 0h8m2 0h22m2 0h15m6 0h0m216 0h0m2 0h3m2 0h0m4 0h3m4 0h8m6 0h0m2 0h0m-313 1h5m3 0h4m3 0h3m2 0h9m2 0h27m223 0h0m2 0h0m3 0h0m3 0h0m2 0h0m2 0h0m3 0h2m2 0h1m5 0h2m2 0h1m2 0h0m6 0h0m-319 1h5m3 0h0m2 0h1m2 0h1m3 0h5m2 0h7m2 0h22m4 0h0m2 0h0m2 0h0m216 0h0m4 0h0m8 0h0m2 0h0m3 0h1m4 0h0m2 0h0m2 0h2m2 0h1m3 0h0m3 0h0m2 0h0m-316 1h3m3 0h7m3 0h3m2 0h2m2 0h30m6 0h0m225 0h3m4 0h1m5 0h1m6 0h0m2 0h0m2 0h0m2 0h0m2 0h0m2 0h0m3 0h0m-321 1h2m4 0h0m2 0h37m2 0h5m2 0h2m231 0h1m3 0h0m3 0h0m5 0h0m5 0h0m5 0h0m3 0h0m-312 1h1m2 0h1m2 0h0m3 0h0m2 0h3m2 0h28m2 0h10m5 0h0m223 0h0m3 0h0m10 0h1m3 0h1m4 0h1m4 0h1m-309 1h3m2 0h1m2 0h3m4 0h12m2 0h0m2 0h16m2 0h3m227 0h0m4 0h0m2 0h0m5 0h1m8 0h0m3 0h0m2 0h1m6 0h0m-314 1h2m2 0h4m4 0h40m2 0h1m4 0h1m2 0h0m230 0h0m3 0h0m2 0h0m12 0h0m3 0h0m3 0h0m-314 1h0m2 0h3m3 0h1m2 0h1m4 0h9m2 0h18m2 0h7m4 0h0m230 0h0m3 0h1m3 0h0m3 0h0m5 0h0m5 0h0m4 0h0m-313 1h0m2 0h2m2 0h1m2 0h6m2 0h37m7 0h0m229 0h0m3 0h0m3 0h0m9 0h0m3 0h0m5 0h0m-313 1h8m2 0h2m2 0h18m2 0h2m2 0h17m-54 1h1m2 0h0m2 0h6m2 0h4m2 0h34m3 0h0m235 0h1m10 0h0m5 0h0m-306 1h0m2 0h1m2 0h2m2 0h0m2 0h4m3 0h17m2 0h3m2 0h10m4 0h0m241 0h0m-298 1h0m2 0h0m3 0h0m2 0h5m3 0h2m2 0h33m3 0h0m4 0h0m-60 1h0m3 0h3m3 0h12m2 0h5m2 0h10m2 0h2m3 0h1m2 0h3m6 0h0m-59 1h1m3 0h2m2 0h6m2 0h18m2 0h6m2 0h1m2 0h5m5 0h0m-57 1h0m2 0h4m2 0h1m2 0h8m3 0h12m2 0h4m2 0h8m2 0h2m57 83h0m-5 1h0m3 0h0m-1 1h1m-1 1h0m1 1h2m-5 1h0m2 0h5m-12 1h0m2 0h1m7 0h0m-10 1h0m3 0h0m4 0h0m-6 1h0m3 0h1m-6 1h0m2 0h0m5 0h0m3 0h0m-10 1h0m3 0h1m6 0h0m-13 1h0m9 0h0m-10 1h0m2 0h0m2 0h2m3 0h0m3 0h0m-11 1h0m6 0h0m2 0h0m-7 1h1m4 0h2m-8 1h1m2 0h1m2 0h0m3 0h0m-8 1h2m2 0h1m2 0h0m-11 1h1m4 0h0m2 0h1m-10 1h0m2 0h0m2 0h0m5 0h0m2 0h0m-9 1h1m2 0h1m5 0h0m-7 1h0m2 0h0m2 0h0m-9 1h0m3 0h1m3 0h0m2 0h1m2 0h1m-13 1h0m2 0h1m2 0h2m3 0h0m-12 1h0m5 0h0m3 0h1m-12 1h1m6 0h2m2 0h0m2 0h0m-11 1h0m3 0h1m2 0h0m3 0h0m-13 1h0m5 0h0m2 0h0m2 0h3m3 0h1m-14 1h0m3 0h0m4 0h0m2 0h0m6 0h0m-12 1h1m3 0h0m2 0h1m2 0h0m2 0h0m-17 1h0m5 0h0m2 0h5m-11 1h2m2 0h1m2 0h4m2 0h1m-14 1h1m4 0h0m2 0h0m2 0h0m2 0h1m-12 1h0m2 0h6m2 0h0m2 0h0m-18 1h0m4 0h0m6 0h2m3 0h0m2 0h0m-20 1h0m10 0h4m2 0h0m2 0h0m5 0h0m-15 1h0m3 0h7m-21 1h0m5 0h1m3 0h1m2 0h5m3 0h2m-18 1h0m3 0h10m4 0h1m2 0h0m-25 1h0m4 0h1m2 0h0m2 0h2m2 0h1m2 0h0m3 0h1m4 0h1m-27 1h1m4 0h4m3 0h1m2 0h3m3 0h1m-19 1h1m4 0h8m3 0h0m3 0h1m-24 1h0m3 0h1m3 0h0m2 0h0m2 0h7m2 0h2m-18 1h0m3 0h1m3 0h5m3 0h0m3 0h0m-24 1h0m5 0h0m3 0h10m3 0h0m3 0h1m2 0h0m-23 1h0m5 0h4m2 0h1m2 0h0m3 0h1m2 0h0m-20 1h1m2 0h9m2 0h2m4 0h0m-24 1h0m6 0h11m2 0h1m2 0h1m-26 1h2m5 0h13m2 0h0m2 0h0m3 0h0m-26 1h0m3 0h0m2 0h9m2 0h0m2 0h2m2 0h2m-26 1h0m2 0h0m3 0h2m2 0h9m4 0h0m5 0h0m-28 1h0m4 0h0m4 0h11m3 0h0m-19 1h0m4 0h7m2 0h2m3 0h0m-27 1h1m8 0h4m2 0h11m2 0h0m2 0h0m-31 1h1m3 0h0m3 0h0m4 0h14m4 0h1m-31 1h0m14 0h14m3 0h0m2 0h1m-32 1h0m5 0h1m6 0h10m2 0h1m-22 1h0m8 0h7m2 0h0m7 0h0m-28 1h1m2 0h0m4 0h2m3 0h0m3 0h2m2 0h2m6 0h0m3 0h1m-36 1h0m3 0h0m4 0h1m2 0h1m4 0h0m2 0h4m2 0h2m2 0h1m8 0h0m-35 1h0m4 0h3m2 0h0m2 0h0m2 0h9m2 0h2m3 0h0m-22 1h1m2 0h8m2 0h5m3 0h1m-33 1h2m3 0h0m2 0h0m2 0h0m2 0h1m2 0h15m-30 1h0m5 0h1m2 0h21m4 0h0m-32 1h0m5 0h0m2 0h1m3 0h6m2 0h1m2 0h0m3 0h0m4 0h0m-23 1h0m2 0h1m2 0h9m2 0h2m2 0h0m4 0h0m-34 1h0m3 0h0m2 0h0m5 0h12m2 0h3m3 0h0m2 0h0m3 0h0m3 0h0m-38 1h0m6 0h0m4 0h16m2 0h0m2 0h2m-32 1h0m2 0h0m3 0h0m2 0h2m2 0h16m3 0h0m5 0h0m2 0h1m-38 1h1m2 0h0m3 0h0m2 0h0m3 0h2m2 0h1m2 0h0m2 0h8m5 0h0m-35 1h1m4 0h2m4 0h7m3 0h1m2 0h0m2 0h6m2 0h1m3 0h0m-34 1h2m5 0h18m2 0h1m3 0h0m4 0h0m-39 1h0m7 0h0m3 0h14m3 0h2m2 0h1m-27 1h0m4 0h22m-36 1h0m8 0h0m4 0h8m2 0h9m2 0h2m2 0h2m-38 1h0m9 0h2m2 0h5m2 0h14m4 0h0m-35 1h1m2 0h1m4 0h1m2 0h20m-32 1h0m4 0h0m2 0h1m2 0h6m2 0h16m-32 1h1m5 0h3m2 0h2m2 0h13m2 0h2m-43 1h0m8 0h0m4 0h0m2 0h1m2 0h17m2 0h4m2 0h0m3 0h2m-47 1h1m9 0h0m5 0h0m3 0h7m2 0h13m3 0h0m3 0h1m-39 1h0m3 0h2m3 0h1m2 0h22m5 0h0m-47 1h0m6 0h0m4 0h0m4 0h0m2 0h1m2 0h3m2 0h18m2 0h1m2 0h0m-41 1h1m2 0h0m4 0h19m2 0h4m2 0h0m2 0h0m3 0h0m2 0h0m-36 1h0m2 0h0m3 0h1m2 0h13m2 0h5m2 0h1m3 0h0m-52 1h0m18 0h1m2 0h20m2 0h3m2 0h0m5 0h1m-51 1h0m2 0h2m6 0h0m6 0h7m2 0h20m2 0h0m2 0h0m3 0h0m-54 1h0m5 0h0m2 0h0m3 0h0m5 0h1m3 0h19m2 0h2m2 0h3m2 0h0m-56 1h0m3 0h0m13 0h0m4 0h0m2 0h14m2 0h17m5 0h0m4 0h0m-60 1h2m3 0h0m4 0h2m2 0h1m3 0h0m2 0h31m3 0h5m-57 1h0m2 0h0m10 0h0m2 0h0m2 0h7m2 0h25m3 0h0m3 0h0m-64 1h1m2 0h0m3 0h0m16 0h0m2 0h1m2 0h30m2 0h0m5 0h1m-62 1h0m5 0h0m3 0h0m6 0h0m2 0h2m4 0h34m-54 1h0m2 0h0m5 0h0m2 0h0m2 0h2m4 0h8m2 0h26m3 0h0m2 0h0m-62 1h0m4 0h0m5 0h0m6 0h0m2 0h1m2 0h1m2 0h34m2 0h1m5 0h1m-64 1h1m5 0h1m2 0h0m2 0h0m2 0h0m7 0h12m2 0h20m4 0h0m7 0h0m240 0h0m-311 1h0m7 0h3m3 0h0m3 0h1m3 0h0m2 0h7m2 0h21m2 0h8m4 0h0m2 0h0m237 0h0m11 0h0m-310 1h0m2 0h0m3 0h0m3 0h1m2 0h2m5 0h1m2 0h13m2 0h12m2 0h1m2 0h1m2 0h1m2 0h1m240 0h0m9 0h0m3 0h0m-318 1h0m10 0h0m2 0h0m3 0h1m2 0h0m3 0h1m2 0h35m4 0h1m4 0h1m2 0h0m233 0h0m3 0h0m-301 1h0m2 0h0m5 0h1m4 0h0m2 0h1m2 0h11m2 0h25m3 0h1m3 0h0m227 0h0m9 0h1m7 0h0m3 0h0m-317 1h0m9 0h1m4 0h0m2 0h0m4 0h0m3 0h11m2 0h11m2 0h13m5 0h0m5 0h0m225 0h0m12 0h0m11 0h0m2 0h1m-325 1h0m7 0h0m2 0h0m3 0h0m4 0h0m8 0h9m2 0h9m2 0h18m2 0h0m2 0h1m4 0h0m224 0h1m10 0h0m2 0h2m6 0h0m4 0h0m4 0h0m-326 1h0m5 0h0m2 0h0m3 0h0m2 0h0m2 0h1m4 0h5m2 0h13m2 0h25m224 0h0m6 0h0m4 0h0m3 0h2m2 0h0m6 0h0m5 0h0m-313 1h0m3 0h0m2 0h3m2 0h0m2 0h1m2 0h0m2 0h33m2 0h10m2 0h1m217 0h0m3 0h0m6 0h1m2 0h0m2 0h0m3 0h1m6 0h1m7 0h1m4 0h0m6 0h0m85 0h0m21 0h0m2 0h0m-425 1h0m5 0h1m2 0h0m2 0h2m2 0h17m2 0h19m2 0h0m2 0h0m223 0h1m7 0h0m2 0h0m3 0h2m3 0h0m6 0h0m2 0h0m2 0h0m5 0h3m95 0h1m12 0h0m2 0h0m3 0h0m-431 1h0m4 0h0m2 0h0m4 0h12m2 0h11m2 0h22m217 0h0m2 0h2m2 0h0m2 0h0m2 0h2m2 0h3m2 0h0m3 0h0m2 0h1m5 0h1m3 0h1m10 0h0m71 0h1m6 0h0m7 0h0m2 0h0m10 0h0m2 0h0m3 0h0m6 0h1m-441 1h0m7 0h0m2 0h1m3 0h0m3 0h1m2 0h3m2 0h12m2 0h9m2 0h1m2 0h7m2 0h5m2 0h0m2 0h0m2 0h0m210 0h0m7 0h0m5 0h8m2 0h0m2 0h0m2 0h0m2 0h2m3 0h0m11 0h0m79 0h0m3 0h0m14 0h0m4 0h1m6 0h0m3 0h2m11 0h0m-449 1h0m4 0h0m8 0h1m5 0h14m2 0h32m2 0h3m3 0h0m204 0h4m2 0h1m4 0h5m2 0h0m2 0h0m2 0h4m3 0h0m2 0h2m2 0h2m4 0h1m12 0h0m73 0h0m2 0h0m4 0h0m4 0h0m8 0h0m2 0h0m2 0h0m4 0h0m6 0h0m11 0h0m3 0h0m-452 1h0m10 0h0m2 0h0m2 0h0m2 0h37m2 0h2m2 0h2m3 0h5m2 0h0m2 0h0m203 0h0m4 0h0m3 0h0m4 0h1m2 0h2m3 0h15m2 0h1m3 0h1m2 0h2m2 0h0m5 0h0m67 0h0m5 0h0m4 0h1m10 0h0m3 0h0m9 0h0m2 0h0m5 0h0m6 0h0m3 0h0m2 0h0m5 0h0m3 0h0m-454 1h0m8 0h0m2 0h4m3 0h13m2 0h1m2 0h3m2 0h0m2 0h27m6 0h0m203 0h1m2 0h0m4 0h1m2 0h8m2 0h3m2 0h10m3 0h0m2 0h0m4 0h0m4 0h0m67 0h0m8 0h0m9 0h0m4 0h1m10 0h0m4 0h0m3 0h1m2 0h0m2 0h0m5 0h1m2 0h0m2 0h0m-444 1h0m2 0h0m3 0h0m7 0h4m2 0h38m2 0h2m2 0h6m2 0h1m2 0h0m200 0h1m3 0h1m2 0h2m3 0h10m2 0h11m2 0h3m3 0h0m6 0h0m2 0h0m7 0h0m62 0h0m5 0h0m4 0h1m11 0h0m3 0h4m2 0h0m4 0h0m2 0h0m2 0h1m4 0h0m4 0h0m5 0h0m10 0h0m-455 1h0m8 0h0m3 0h21m2 0h18m2 0h3m2 0h3m2 0h3m2 0h1m198 0h1m7 0h0m3 0h9m2 0h18m2 0h0m3 0h1m2 0h0m11 0h1m4 0h0m59 0h1m8 0h0m6 0h0m3 0h0m15 0h0m4 0h1m6 0h0m2 0h0m2 0h1m10 0h1m5 0h0m-458 1h0m6 0h1m3 0h2m2 0h0m2 0h9m2 0h43m198 0h0m7 0h1m3 0h3m2 0h3m2 0h15m2 0h3m2 0h1m2 0h0m2 0h0m2 0h0m2 0h0m4 0h1m69 0h0m2 0h0m3 0h0m8 0h1m7 0h0m7 0h0m4 0h0m2 0h0m6 0h1m2 0h0m8 0h0m2 0h0m3 0h1m5 0h1m-449 1h1m3 0h24m2 0h5m2 0h11m2 0h12m2 0h0m197 0h0m4 0h2m2 0h33m2 0h2m2 0h2m9 0h0m64 0h0m2 0h0m7 0h0m4 0h0m2 0h0m2 0h0m3 0h0m6 0h0m3 0h1m4 0h0m2 0h0m4 0h0m5 0h2m7 0h0m3 0h1m-446 1h0m4 0h25m2 0h16m2 0h0m2 0h16m195 0h0m3 0h0m2 0h3m2 0h42m3 0h2m5 0h0m4 0h1m52 0h1m9 0h0m4 0h0m3 0h0m3 0h0m3 0h0m2 0h1m3 0h0m8 0h2m2 0h0m4 0h0m5 0h1m3 0h0m11 0h0m2 0h0m2 0h0m-450 1h0m4 0h0m2 0h11m2 0h4m2 0h23m2 0h15m4 0h0m197 0h3m3 0h8m2 0h33m2 0h3m6 0h0m56 0h0m3 0h0m4 0h0m7 0h1m4 0h0m5 0h1m3 0h0m3 0h0m3 0h1m3 0h0m2 0h0m3 0h3m2 0h1m4 0h1m2 0h1m15 0h0m3 0h1m-458 1h0m5 0h0m2 0h2m2 0h43m2 0h11m202 0h0m2 0h0m2 0h8m2 0h20m2 0h8m5 0h0m2 0h3m5 0h0m44 0h0m8 0h0m5 0h0m6 0h0m6 0h1m2 0h0m2 0h0m3 0h1m4 0h0m2 0h0m2 0h0m2 0h3m2 0h0m2 0h2m2 0h2m2 0h1m3 0h0m5 0h0m2 0h0m2 0h0m2 0h0m14 0h0m-463 1h0m4 0h0m3 0h0m2 0h20m2 0h3m2 0h2m2 0h1m2 0h12m2 0h11m2 0h1m198 0h1m3 0h1m2 0h13m2 0h2m2 0h6m2 0h4m2 0h10m5 0h0m3 0h1m52 0h1m8 0h0m2 0h1m2 0h2m4 0h0m3 0h0m3 0h0m2 0h0m2 0h2m2 0h1m2 0h10m2 0h8m3 0h0m3 0h0m2 0h0m4 0h0m7 0h0m3 0h0m-459 1h0m11 0h26m2 0h29m191 0h0m3 0h0m4 0h2m3 0h45m2 0h2m6 0h1m4 0h1m44 0h0m11 0h0m2 0h0m3 0h0m2 0h0m3 0h0m9 0h0m2 0h1m2 0h6m2 0h15m3 0h3m7 0h1m5 0h0m7 0h0m2 0h0m-463 1h0m4 0h0m3 0h0m3 0h0m2 0h20m2 0h4m2 0h15m2 0h6m2 0h2m2 0h2m191 0h0m4 0h0m4 0h11m2 0h39m2 0h0m2 0h0m2 0h0m45 0h0m4 0h0m5 0h0m13 0h2m3 0h0m2 0h0m2 0h0m2 0h0m2 0h28m2 0h1m4 0h2m4 0h0m4 0h1m3 0h0m-451 1h2m2 0h4m2 0h25m2 0h6m2 0h15m2 0h2m190 0h1m4 0h0m4 0h1m2 0h8m2 0h36m2 0h2m7 0h2m40 0h0m3 0h0m2 0h0m12 0h0m2 0h0m2 0h0m2 0h1m4 0h1m2 0h0m2 0h1m2 0h3m2 0h26m3 0h0m3 0h3m3 0h1m2 0h0m10 0h0m-459 1h0m3 0h23m2 0h10m2 0h6m2 0h7m2 0h11m185 0h0m4 0h0m2 0h0m4 0h42m2 0h9m3 0h0m2 0h0m48 0h0m3 0h0m2 0h0m2 0h0m5 0h2m2 0h0m3 0h0m3 0h0m2 0h2m2 0h2m3 0h0m2 0h29m2 0h0m3 0h1m2 0h0m2 0h0m2 0h0m2 0h0m8 0h0m4 0h0m-462 1h1m4 0h2m3 0h45m2 0h10m2 0h0m190 0h0m4 0h0m2 0h2m2 0h5m2 0h5m2 0h1m2 0h9m2 0h10m2 0h13m7 0h1m46 0h0m5 0h0m10 0h0m4 0h0m4 0h0m4 0h39m2 0h2m2 0h0m2 0h0m3 0h0m-451 1h0m2 0h3m2 0h10m2 0h0m2 0h4m2 0h10m2 0h7m2 0h16m3 0h0m190 0h0m6 0h0m4 0h45m2 0h3m3 0h0m2 0h0m7 0h0m43 0h0m2 0h1m5 0h1m7 0h3m6 0h0m2 0h1m2 0h0m2 0h32m2 0h1m3 0h1m2 0h0m3 0h0m2 0h0m5 0h1m3 0h2m-460 1h0m4 0h8m2 0h33m2 0h15m2 0h0m198 0h29m2 0h8m2 0h14m3 0h0m3 0h1m44 0h1m15 0h0m2 0h0m2 0h0m3 0h3m2 0h6m2 0h20m2 0h10m2 0h0m5 0h0m5 0h0m6 0h0m-458 1h2m3 0h0m3 0h10m2 0h42m2 0h1m3 0h0m185 0h1m11 0h31m2 0h4m2 0h6m2 0h2m2 0h0m5 0h0m2 0h0m2 0h0m2 0h0m39 0h1m2 0h0m2 0h0m3 0h1m6 0h0m2 0h0m3 0h1m3 0h0m2 0h2m5 0h1m2 0h38m2 0h2m4 0h3m-453 1h0m4 0h0m4 0h16m2 0h6m2 0h11m2 0h16m2 0h1m2 0h1m193 0h0m4 0h28m2 0h12m2 0h3m2 0h1m2 0h0m3 0h0m4 0h0m2 0h0m40 0h0m12 0h0m6 0h0m4 0h0m3 0h2m3 0h0m5 0h38m2 0h4m2 0h4m2 0h0m6 0h0m-457 1h0m2 0h2m2 0h28m2 0h18m2 0h11m185 0h0m3 0h0m3 0h0m3 0h0m2 0h6m2 0h1m2 0h3m2 0h3m2 0h16m2 0h12m5 0h0m2 0h0m47 0h0m5 0h0m8 0h0m6 0h0m2 0h0m2 0h1m3 0h12m2 0h32m7 0h0m3 0h0m3 0h0m2 0h0m-453 1h0m2 0h16m2 0h1m2 0h23m2 0h4m2 0h9m190 0h0m6 0h1m2 0h1m2 0h7m2 0h34m2 0h0m2 0h4m3 0h0m42 0h0m16 0h0m4 0h0m2 0h0m3 0h2m2 0h0m2 0h0m2 0h41m3 0h1m5 0h2m2 0h0m-454 1h1m3 0h1m3 0h9m2 0h6m2 0h18m2 0h5m2 0h8m2 0h2m2 0h0m187 0h0m4 0h1m2 0h0m2 0h0m2 0h27m2 0h7m2 0h11m3 0h0m7 0h0m46 0h0m3 0h3m5 0h0m3 0h0m3 0h2m4 0h0m2 0h26m2 0h11m2 0h1m2 0h2m5 0h0m2 0h0m3 0h0m12 0h0m-464 1h1m3 0h1m2 0h12m3 0h16m3 0h14m2 0h4m2 0h3m197 0h1m3 0h7m2 0h26m2 0h5m2 0h3m2 0h1m2 0h1m2 0h1m5 0h0m43 0h0m6 0h0m6 0h0m2 0h0m4 0h0m5 0h1m2 0h4m2 0h15m2 0h1m2 0h19m8 0h0m4 0h1m3 0h0m7 0h0m-463 1h0m4 0h0m2 0h4m2 0h28m2 0h22m189 0h0m5 0h1m6 0h0m2 0h20m2 0h6m2 0h10m2 0h1m2 0h1m2 0h1m8 0h0m2 0h0m41 0h0m9 0h0m4 0h1m3 0h2m2 0h1m3 0h0m5 0h3m2 0h4m2 0h9m2 0h14m2 0h2m2 0h2m3 0h0m2 0h0m10 0h0m4 0h0m-460 1h1m2 0h0m2 0h15m2 0h1m2 0h16m2 0h20m2 0h0m188 0h0m6 0h1m2 0h0m2 0h15m2 0h5m2 0h5m2 0h5m2 0h8m4 0h1m3 0h2m56 0h0m8 0h0m7 0h0m3 0h1m2 0h1m2 0h1m2 0h27m2 0h1m3 0h2m3 0h0m4 0h0m2 0h0m4 0h0m4 0h1m-456 1h0m2 0h5m2 0h30m2 0h24m199 0h1m2 0h10m2 0h8m2 0h9m2 0h4m2 0h6m2 0h0m2 0h0m10 0h0m40 0h0m14 0h0m4 0h1m4 0h0m6 0h1m2 0h1m2 0h3m2 0h11m2 0h9m2 0h4m4 0h0m3 0h0m7 0h1m5 0h0m2 0h0m4 0h0m-457 1h0m4 0h15m2 0h3m2 0h17m3 0h15m190 0h0m8 0h0m2 0h1m2 0h7m2 0h5m2 0h25m2 0h1m2 0h2m3 0h0m48 0h0m3 0h0m5 0h1m4 0h2m4 0h1m4 0h1m2 0h13m2 0h21m2 0h1m2 0h0m2 0h0m3 0h0m2 0h1m6 0h0m-447 1h1m2 0h1m2 0h1m2 0h4m2 0h7m2 0h29m2 0h7m197 0h0m2 0h14m2 0h4m2 0h20m2 0h1m4 0h0m2 0h2m4 0h0m48 0h0m6 0h0m6 0h0m10 0h1m6 0h0m3 0h0m2 0h15m2 0h3m3 0h1m2 0h3m2 0h1m2 0h0m2 0h2m12 0h2m-454 1h0m3 0h0m2 0h13m2 0h31m3 0h6m2 0h1m194 0h2m2 0h14m3 0h12m2 0h10m2 0h3m2 0h0m7 0h0m52 0h0m11 0h0m4 0h0m2 0h0m2 0h0m4 0h0m2 0h0m2 0h0m4 0h1m2 0h9m2 0h12m2 0h0m2 0h0m3 0h0m4 0h2m2 0h0m5 0h0m3 0h0m-448 1h0m2 0h0m3 0h1m2 0h7m2 0h31m2 0h4m2 0h7m191 0h1m3 0h2m3 0h0m3 0h12m2 0h12m2 0h17m8 0h0m57 0h0m2 0h2m6 0h0m2 0h0m2 0h1m4 0h0m2 0h1m2 0h0m2 0h18m4 0h2m2 0h4m3 0h0m3 0h4m8 0h0m2 0h0m5 0h0m2 0h0m-458 1h0m5 0h0m2 0h20m2 0h33m192 0h0m3 0h1m2 0h0m3 0h12m2 0h28m2 0h1m2 0h1m2 0h2m7 0h1m48 0h0m3 0h1m12 0h0m4 0h0m2 0h1m2 0h4m2 0h4m3 0h5m2 0h5m3 0h4m2 0h0m2 0h0m4 0h0m5 0h0m2 0h0m3 0h0m10 0h0m-456 1h0m3 0h57m2 0h0m194 0h0m9 0h0m2 0h3m2 0h0m2 0h5m2 0h9m2 0h0m2 0h14m3 0h1m5 0h0m63 0h0m3 0h0m6 0h1m2 0h0m3 0h0m2 0h0m5 0h1m2 0h3m2 0h7m2 0h3m2 0h1m7 0h3m2 0h0m5 0h0m3 0h0m5 0h1m2 0h0m-452 1h0m3 0h1m2 0h15m2 0h26m2 0h8m2 0h0m193 0h0m3 0h1m2 0h7m2 0h10m2 0h18m2 0h5m4 0h0m2 0h0m2 0h2m5 0h0m48 0h0m3 0h1m7 0h0m8 0h0m2 0h0m2 0h1m2 0h3m2 0h0m2 0h1m2 0h1m2 0h2m3 0h0m2 0h1m2 0h4m2 0h0m5 0h0m7 0h1m3 0h0m4 0h0m-441 1h1m2 0h9m2 0h26m2 0h1m3 0h11m199 0h0m3 0h0m4 0h20m2 0h11m4 0h0m6 0h1m3 0h1m5 0h0m55 0h0m12 0h1m3 0h2m2 0h0m2 0h2m2 0h3m2 0h0m2 0h0m3 0h0m4 0h0m2 0h3m3 0h0m4 0h2m2 0h0m4 0h0m6 0h1m3 0h0m3 0h0m-447 1h0m5 0h21m2 0h15m2 0h4m2 0h7m197 0h0m9 0h2m2 0h6m2 0h10m2 0h9m2 0h1m4 0h1m2 0h0m10 0h1m51 0h0m3 0h0m4 0h0m8 0h0m10 0h1m5 0h1m4 0h2m3 0h2m4 0h1m6 0h1m6 0h0m3 0h0m3 0h1m4 0h0m5 0h2m4 0h0m-453 1h1m2 0h0m4 0h20m2 0h8m2 0h2m2 0h16m3 0h0m194 0h0m2 0h0m5 0h0m2 0h0m2 0h1m2 0h2m2 0h6m2 0h12m2 0h2m3 0h1m6 0h1m3 0h0m65 0h0m2 0h0m3 0h0m7 0h0m3 0h0m4 0h1m3 0h0m3 0h0m3 0h0m5 0h0m2 0h0m4 0h0m6 0h1m4 0h2m10 0h0m7 0h0m3 0h0m-452 1h1m3 0h0m2 0h0m3 0h25m3 0h5m2 0h10m2 0h3m2 0h2m192 0h2m3 0h0m5 0h0m2 0h0m2 0h2m2 0h0m2 0h14m2 0h3m3 0h0m2 0h0m3 0h1m2 0h2m4 0h0m3 0h0m5 0h0m57 0h1m9 0h0m13 0h1m3 0h0m2 0h0m3 0h1m4 0h0m2 0h0m2 0h0m5 0h0m2 0h0m2 0h1m-422 1h0m3 0h0m2 0h12m2 0h2m2 0h9m2 0h22m197 0h0m5 0h0m2 0h3m2 0h1m2 0h3m2 0h4m2 0h2m2 0h1m2 0h1m2 0h1m2 0h2m2 0h0m2 0h0m78 0h0m7 0h0m5 0h0m9 0h0m2 0h0m5 0h1m3 0h2m3 0h0m3 0h0m13 0h2m6 0h0m2 0h0m3 0h1m-444 1h0m2 0h3m2 0h5m2 0h4m2 0h1m2 0h27m2 0h4m2 0h0m203 0h1m2 0h0m3 0h2m3 0h6m2 0h1m2 0h5m2 0h0m2 0h1m6 0h0m5 0h0m6 0h0m63 0h0m3 0h0m3 0h1m10 0h2m10 0h2m2 0h0m4 0h1m6 0h0m2 0h0m12 0h0m5 0h0m2 0h0m6 0h0m-440 1h1m2 0h11m2 0h36m197 0h1m6 0h7m3 0h0m2 0h0m2 0h0m2 0h0m4 0h1m2 0h0m3 0h0m2 0h1m3 0h4m6 0h1m2 0h0m71 0h0m10 0h0m8 0h1m2 0h1m3 0h1m4 0h0m2 0h0m5 0h0m2 0h0m8 0h0m4 0h0m2 0h0m2 0h0m3 0h0m2 0h0m2 0h1m-438 1h0m2 0h1m2 0h17m2 0h30m205 0h0m3 0h1m2 0h0m2 0h0m2 0h5m2 0h1m2 0h0m2 0h1m3 0h0m3 0h0m4 0h0m2 0h0m6 0h0m7 0h1m74 0h0m7 0h1m6 0h0m2 0h0m2 0h0m2 0h1m2 0h0m3 0h1m6 0h0m21 0h0m-438 1h0m3 0h0m4 0h0m4 0h4m2 0h20m2 0h6m2 0h5m2 0h0m3 0h0m197 0h0m2 0h0m5 0h1m5 0h0m3 0h1m5 0h2m3 0h0m5 0h2m5 0h1m10 0h3m78 0h0m9 0h0m4 0h0m5 0h0m5 0h0m4 0h0m3 0h0m2 0h0m8 0h0m11 0h0m-438 1h1m7 0h0m2 0h2m2 0h1m3 0h40m206 0h2m5 0h0m5 0h1m3 0h0m2 0h0m6 0h0m2 0h0m2 0h1m2 0h0m6 0h0m6 0h0m80 0h1m15 0h0m3 0h1m6 0h0m6 0h0m2 0h0m2 0h0m9 0h0m5 0h0m-429 1h1m2 0h43m3 0h0m204 0h0m5 0h0m6 0h0m3 0h1m5 0h3m2 0h1m6 0h0m4 0h0m3 0h1m88 0h0m2 0h0m7 0h0m9 0h0m9 0h0m5 0h0m5 0h0m7 0h0m-432 1h0m4 0h0m6 0h1m2 0h6m2 0h15m2 0h3m2 0h3m2 0h3m2 0h1m216 0h2m2 0h3m5 0h0m3 0h0m13 0h0m94 0h0m7 0h0m4 0h0m13 0h0m2 0h0m-414 1h0m5 0h0m3 0h10m2 0h9m2 0h19m212 0h0m3 0h0m3 0h3m2 0h0m15 0h0m4 0h0m2 0h0m96 0h0m3 0h0m7 0h0m2 0h0m2 0h0m6 0h0m4 0h1m3 0h0m3 0h0m-424 1h0m2 0h1m2 0h0m2 0h0m3 0h5m2 0h32m2 0h1m3 0h0"/>
<rect x="36.5" y="24.9" width="220.7" height="194.7" fill="none" stroke="#1a1a1a" stroke-width="1.6"/>
<path stroke="#000" stroke-width="1.2" fill="none" d="M36.5 219.6v4M45.12 219.6v2.5M53.74 219.6v2.5M62.36 219.6v2.5M70.98 219.6v2.5M79.61 219.6v4M88.23 219.6v2.5M96.85 219.6v2.5M105.47 219.6v2.5M114.09 219.6v2.5M122.71 219.6v4M131.33 219.6v2.5M139.95 219.6v2.5M148.57 219.6v2.5M157.2 219.6v2.5M165.82 219.6v4M174.44 219.6v2.5M183.06 219.6v2.5M191.68 219.6v2.5M200.3 219.6v2.5M208.92 219.6v4M217.54 219.6v2.5M226.16 219.6v2.5M234.79 219.6v2.5M243.41 219.6v2.5M252.03 219.6v4M36.5 219.6h-4M36.5 211.99h-2.5M36.5 204.39h-2.5M36.5 196.78h-2.5M36.5 189.18h-2.5M36.5 181.57h-4M36.5 173.97h-2.5M36.5 166.36h-2.5M36.5 158.76h-2.5M36.5 151.15h-2.5M36.5 143.55h-4M36.5 135.94h-2.5M36.5 128.33h-2.5M36.5 120.73h-2.5M36.5 113.12h-2.5M36.5 105.52h-4M36.5 97.91h-2.5M36.5 90.31h-2.5M36.5 82.7h-2.5M36.5 75.1h-2.5M36.5 67.49h-4M36.5 59.89h-2.5M36.5 52.28h-2.5M36.5 44.67h-2.5M36.5 37.07h-2.5M36.5 29.46h-4"/>
<g class="tl"><text x="36.5" y="232.1">0</text><text x="79.61" y="232.1">200</text><text x="122.71" y="232.1">400</text><text x="165.82" y="232.1">600</text><text x="208.92" y="232.1">800</text><text x="252.03" y="232.1">1000</text><text transform="translate(28 219.6) rotate(-90)">0</text><text transform="translate(28 181.57) rotate(-90)">200</text><text transform="translate(28 143.55) rotate(-90)">400</text><text transform="translate(28 105.52) rotate(-90)">600</text><text transform="translate(28 67.49) rotate(-90)">800</text><text transform="translate(28 29.46) rotate(-90)">1000</text></g>
<rect x="291.2" y="24.8" width="221.3" height="193.1" fill="none" stroke="#1a1a1a" stroke-width="1.6"/>
<path stroke="#000" stroke-width="1.2" fill="none" d="M291.2 217.9v4M299.84 217.9v2.5M308.49 217.9v2.5M317.13 217.9v2.5M325.78 217.9v2.5M334.42 217.9v4M343.07 217.9v2.5M351.71 217.9v2.5M360.36 217.9v2.5M369 217.9v2.5M377.65 217.9v4M386.29 217.9v2.5M394.93 217.9v2.5M403.58 217.9v2.5M412.22 217.9v2.5M420.87 217.9v4M429.51 217.9v2.5M438.16 217.9v2.5M446.8 217.9v2.5M455.45 217.9v2.5M464.09 217.9v4M472.74 217.9v2.5M481.38 217.9v2.5M490.02 217.9v2.5M498.67 217.9v2.5M507.31 217.9v4M291.2 217.9h-4M291.2 210.36h-2.5M291.2 202.81h-2.5M291.2 195.27h-2.5M291.2 187.73h-2.5M291.2 180.19h-4M291.2 172.64h-2.5M291.2 165.1h-2.5M291.2 157.56h-2.5M291.2 150.01h-2.5M291.2 142.47h-4M291.2 134.93h-2.5M291.2 127.38h-2.5M291.2 119.84h-2.5M291.2 112.3h-2.5M291.2 104.76h-4M291.2 97.21h-2.5M291.2 89.67h-2.5M291.2 82.13h-2.5M291.2 74.58h-2.5M291.2 67.04h-4M291.2 59.5h-2.5M291.2 51.95h-2.5M291.2 44.41h-2.5M291.2 36.87h-2.5M291.2 29.33h-4"/>
<g class="tl"><text x="291.2" y="230.4">0</text><text x="334.42" y="230.4">200</text><text x="377.65" y="230.4">400</text><text x="420.87" y="230.4">600</text><text x="464.09" y="230.4">800</text><text x="507.31" y="230.4">1000</text><text transform="translate(282.7 217.9) rotate(-90)">0</text><text transform="translate(282.7 180.19) rotate(-90)">200</text><text transform="translate(282.7 142.47) rotate(-90)">400</text><text transform="translate(282.7 104.76) rotate(-90)">600</text><text transform="translate(282.7 67.04) rotate(-90)">800</text><text transform="translate(282.7 29.33) rotate(-90)">1000</text></g>
<rect x="34.9" y="292.6" width="219.9" height="195.3" fill="none" stroke="#1a1a1a" stroke-width="1.6"/>
<path stroke="#000" stroke-width="1.1" fill="none" d="M34.9 487.9v4M34.9 487.9h-4M51.45 487.9v2.7M34.9 473.2h-2.7M61.13 487.9v2.7M34.9 464.6h-2.7M68 487.9v2.7M34.9 458.5h-2.7M73.33 487.9v2.7M34.9 453.77h-2.7M77.68 487.9v2.7M34.9 449.91h-2.7M81.36 487.9v2.7M34.9 446.64h-2.7M84.55 487.9v2.7M34.9 443.81h-2.7M87.36 487.9v2.7M34.9 441.31h-2.7M89.88 487.9v4M34.9 439.07h-4M106.42 487.9v2.7M34.9 424.38h-2.7M116.1 487.9v2.7M34.9 415.78h-2.7M122.97 487.9v2.7M34.9 409.68h-2.7M128.3 487.9v2.7M34.9 404.95h-2.7M132.65 487.9v2.7M34.9 401.08h-2.7M136.33 487.9v2.7M34.9 397.81h-2.7M139.52 487.9v2.7M34.9 394.98h-2.7M142.33 487.9v2.7M34.9 392.48h-2.7M144.85 487.9v4M34.9 390.25h-4M161.4 487.9v2.7M34.9 375.55h-2.7M171.08 487.9v2.7M34.9 366.95h-2.7M177.95 487.9v2.7M34.9 360.85h-2.7M183.28 487.9v2.7M34.9 356.12h-2.7M187.63 487.9v2.7M34.9 352.26h-2.7M191.31 487.9v2.7M34.9 348.99h-2.7M194.5 487.9v2.7M34.9 346.16h-2.7M197.31 487.9v2.7M34.9 343.66h-2.7M199.83 487.9v4M34.9 341.43h-4M216.37 487.9v2.7M34.9 326.73h-2.7M226.05 487.9v2.7M34.9 318.13h-2.7M232.92 487.9v2.7M34.9 312.03h-2.7M238.25 487.9v2.7M34.9 307.3h-2.7M242.6 487.9v2.7M34.9 303.43h-2.7M246.28 487.9v2.7M34.9 300.16h-2.7M249.47 487.9v2.7M34.9 297.33h-2.7M252.28 487.9v2.7M34.9 294.83h-2.7M254.8 487.9v4M34.9 292.6h-4"/>
<g class="tl lg"><text transform="translate(35.2 502.3) scale(.86 1)">10<tspan class="sp" dx="0.6" dy="-4.9">0</tspan></text><text transform="translate(90.17 502.3) scale(.86 1)">10<tspan class="sp" dx="0.6" dy="-4.9">1</tspan></text><text transform="translate(145.15 502.3) scale(.86 1)">10<tspan class="sp" dx="0.6" dy="-4.9">2</tspan></text><text transform="translate(200.13 502.3) scale(.86 1)">10<tspan class="sp" dx="0.6" dy="-4.9">3</tspan></text><text transform="translate(255.1 502.3) scale(.86 1)">10<tspan class="sp" dx="0.6" dy="-4.9">4</tspan></text><text transform="translate(26.6 488.3) rotate(-90) scale(.86 1)">10<tspan class="sp" dx="0.6" dy="-4.9">0</tspan></text><text transform="translate(26.6 439.47) rotate(-90) scale(.86 1)">10<tspan class="sp" dx="0.6" dy="-4.9">1</tspan></text><text transform="translate(26.6 390.65) rotate(-90) scale(.86 1)">10<tspan class="sp" dx="0.6" dy="-4.9">2</tspan></text><text transform="translate(26.6 341.82) rotate(-90) scale(.86 1)">10<tspan class="sp" dx="0.6" dy="-4.9">3</tspan></text><text transform="translate(26.6 293) rotate(-90) scale(.86 1)">10<tspan class="sp" dx="0.6" dy="-4.9">4</tspan></text></g>
<rect x="292.2" y="292.2" width="220.3" height="195.2" fill="none" stroke="#1a1a1a" stroke-width="1.6"/>
<path stroke="#000" stroke-width="1.1" fill="none" d="M292.2 487.4v4M292.2 487.4h-4M308.78 487.4v2.7M292.2 472.71h-2.7M318.48 487.4v2.7M292.2 464.12h-2.7M325.36 487.4v2.7M292.2 458.02h-2.7M330.7 487.4v2.7M292.2 453.29h-2.7M335.06 487.4v2.7M292.2 449.43h-2.7M338.74 487.4v2.7M292.2 446.16h-2.7M341.94 487.4v2.7M292.2 443.33h-2.7M344.75 487.4v2.7M292.2 440.83h-2.7M347.27 487.4v4M292.2 438.6h-4M363.85 487.4v2.7M292.2 423.91h-2.7M373.55 487.4v2.7M292.2 415.32h-2.7M380.43 487.4v2.7M292.2 409.22h-2.7M385.77 487.4v2.7M292.2 404.49h-2.7M390.13 487.4v2.7M292.2 400.63h-2.7M393.82 487.4v2.7M292.2 397.36h-2.7M397.01 487.4v2.7M292.2 394.53h-2.7M399.83 487.4v2.7M292.2 392.03h-2.7M402.35 487.4v4M292.2 389.8h-4M418.93 487.4v2.7M292.2 375.11h-2.7M428.63 487.4v2.7M292.2 366.52h-2.7M435.51 487.4v2.7M292.2 360.42h-2.7M440.85 487.4v2.7M292.2 355.69h-2.7M445.21 487.4v2.7M292.2 351.83h-2.7M448.89 487.4v2.7M292.2 348.56h-2.7M452.09 487.4v2.7M292.2 345.73h-2.7M454.9 487.4v2.7M292.2 343.23h-2.7M457.43 487.4v4M292.2 341h-4M474 487.4v2.7M292.2 326.31h-2.7M483.7 487.4v2.7M292.2 317.72h-2.7M490.58 487.4v2.7M292.2 311.62h-2.7M495.92 487.4v2.7M292.2 306.89h-2.7M500.28 487.4v2.7M292.2 303.03h-2.7M503.97 487.4v2.7M292.2 299.76h-2.7M507.16 487.4v2.7M292.2 296.93h-2.7M509.98 487.4v2.7M292.2 294.43h-2.7M512.5 487.4v4M292.2 292.2h-4"/>
<g class="tl lg"><text transform="translate(292.5 501.8) scale(.86 1)">10<tspan class="sp" dx="0.6" dy="-4.9">0</tspan></text><text transform="translate(347.57 501.8) scale(.86 1)">10<tspan class="sp" dx="0.6" dy="-4.9">1</tspan></text><text transform="translate(402.65 501.8) scale(.86 1)">10<tspan class="sp" dx="0.6" dy="-4.9">2</tspan></text><text transform="translate(457.73 501.8) scale(.86 1)">10<tspan class="sp" dx="0.6" dy="-4.9">3</tspan></text><text transform="translate(512.8 501.8) scale(.86 1)">10<tspan class="sp" dx="0.6" dy="-4.9">4</tspan></text><text transform="translate(283.9 487.8) rotate(-90) scale(.86 1)">10<tspan class="sp" dx="0.6" dy="-4.9">0</tspan></text><text transform="translate(283.9 439) rotate(-90) scale(.86 1)">10<tspan class="sp" dx="0.6" dy="-4.9">1</tspan></text><text transform="translate(283.9 390.2) rotate(-90) scale(.86 1)">10<tspan class="sp" dx="0.6" dy="-4.9">2</tspan></text><text transform="translate(283.9 341.4) rotate(-90) scale(.86 1)">10<tspan class="sp" dx="0.6" dy="-4.9">3</tspan></text><text transform="translate(283.9 292.6) rotate(-90) scale(.86 1)">10<tspan class="sp" dx="0.6" dy="-4.9">4</tspan></text></g>
<rect x="36.4" y="529.4" width="219" height="194.2" fill="none" stroke="#1a1a1a" stroke-width="1.6"/>
<path stroke="#000" stroke-width="1.1" fill="none" d="M36.4 723.6v4M36.4 723.6h-4M52.88 723.6v2.7M36.4 708.98h-2.7M62.52 723.6v2.7M36.4 700.44h-2.7M69.36 723.6v2.7M36.4 694.37h-2.7M74.67 723.6v2.7M36.4 689.67h-2.7M79 723.6v2.7M36.4 685.82h-2.7M82.67 723.6v2.7M36.4 682.57h-2.7M85.84 723.6v2.7M36.4 679.75h-2.7M88.64 723.6v2.7M36.4 677.27h-2.7M91.15 723.6v4M36.4 675.05h-4M107.63 723.6v2.7M36.4 660.43h-2.7M117.27 723.6v2.7M36.4 651.89h-2.7M124.11 723.6v2.7M36.4 645.82h-2.7M129.42 723.6v2.7M36.4 641.12h-2.7M133.75 723.6v2.7M36.4 637.27h-2.7M137.42 723.6v2.7M36.4 634.02h-2.7M140.59 723.6v2.7M36.4 631.2h-2.7M143.39 723.6v2.7M36.4 628.72h-2.7M145.9 723.6v4M36.4 626.5h-4M162.38 723.6v2.7M36.4 611.88h-2.7M172.02 723.6v2.7M36.4 603.34h-2.7M178.86 723.6v2.7M36.4 597.27h-2.7M184.17 723.6v2.7M36.4 592.57h-2.7M188.5 723.6v2.7M36.4 588.72h-2.7M192.17 723.6v2.7M36.4 585.47h-2.7M195.34 723.6v2.7M36.4 582.65h-2.7M198.14 723.6v2.7M36.4 580.17h-2.7M200.65 723.6v4M36.4 577.95h-4M217.13 723.6v2.7M36.4 563.33h-2.7M226.77 723.6v2.7M36.4 554.79h-2.7M233.61 723.6v2.7M36.4 548.72h-2.7M238.92 723.6v2.7M36.4 544.02h-2.7M243.25 723.6v2.7M36.4 540.17h-2.7M246.92 723.6v2.7M36.4 536.92h-2.7M250.09 723.6v2.7M36.4 534.1h-2.7M252.89 723.6v2.7M36.4 531.62h-2.7M255.4 723.6v4M36.4 529.4h-4"/>
<g class="tl lg"><text transform="translate(36.7 738) scale(.86 1)">10<tspan class="sp" dx="0.6" dy="-4.9">0</tspan></text><text transform="translate(91.45 738) scale(.86 1)">10<tspan class="sp" dx="0.6" dy="-4.9">1</tspan></text><text transform="translate(146.2 738) scale(.86 1)">10<tspan class="sp" dx="0.6" dy="-4.9">2</tspan></text><text transform="translate(200.95 738) scale(.86 1)">10<tspan class="sp" dx="0.6" dy="-4.9">3</tspan></text><text transform="translate(255.7 738) scale(.86 1)">10<tspan class="sp" dx="0.6" dy="-4.9">4</tspan></text><text transform="translate(28.1 724) rotate(-90) scale(.86 1)">10<tspan class="sp" dx="0.6" dy="-4.9">0</tspan></text><text transform="translate(28.1 675.45) rotate(-90) scale(.86 1)">10<tspan class="sp" dx="0.6" dy="-4.9">1</tspan></text><text transform="translate(28.1 626.9) rotate(-90) scale(.86 1)">10<tspan class="sp" dx="0.6" dy="-4.9">2</tspan></text><text transform="translate(28.1 578.35) rotate(-90) scale(.86 1)">10<tspan class="sp" dx="0.6" dy="-4.9">3</tspan></text><text transform="translate(28.1 529.8) rotate(-90) scale(.86 1)">10<tspan class="sp" dx="0.6" dy="-4.9">4</tspan></text></g>
<rect x="291.4" y="528.4" width="220.4" height="194.8" fill="none" stroke="#1a1a1a" stroke-width="1.6"/>
<path stroke="#000" stroke-width="1.1" fill="none" d="M291.4 723.2v4M291.4 723.2h-4M307.99 723.2v2.7M291.4 708.54h-2.7M317.69 723.2v2.7M291.4 699.96h-2.7M324.57 723.2v2.7M291.4 693.88h-2.7M329.91 723.2v2.7M291.4 689.16h-2.7M334.28 723.2v2.7M291.4 685.3h-2.7M337.96 723.2v2.7M291.4 682.04h-2.7M341.16 723.2v2.7M291.4 679.22h-2.7M343.98 723.2v2.7M291.4 676.73h-2.7M346.5 723.2v4M291.4 674.5h-4M363.09 723.2v2.7M291.4 659.84h-2.7M372.79 723.2v2.7M291.4 651.26h-2.7M379.67 723.2v2.7M291.4 645.18h-2.7M385.01 723.2v2.7M291.4 640.46h-2.7M389.38 723.2v2.7M291.4 636.6h-2.7M393.06 723.2v2.7M291.4 633.34h-2.7M396.26 723.2v2.7M291.4 630.52h-2.7M399.08 723.2v2.7M291.4 628.03h-2.7M401.6 723.2v4M291.4 625.8h-4M418.19 723.2v2.7M291.4 611.14h-2.7M427.89 723.2v2.7M291.4 602.56h-2.7M434.77 723.2v2.7M291.4 596.48h-2.7M440.11 723.2v2.7M291.4 591.76h-2.7M444.48 723.2v2.7M291.4 587.9h-2.7M448.16 723.2v2.7M291.4 584.64h-2.7M451.36 723.2v2.7M291.4 581.82h-2.7M454.18 723.2v2.7M291.4 579.33h-2.7M456.7 723.2v4M291.4 577.1h-4M473.29 723.2v2.7M291.4 562.44h-2.7M482.99 723.2v2.7M291.4 553.86h-2.7M489.87 723.2v2.7M291.4 547.78h-2.7M495.21 723.2v2.7M291.4 543.06h-2.7M499.58 723.2v2.7M291.4 539.2h-2.7M503.26 723.2v2.7M291.4 535.94h-2.7M506.46 723.2v2.7M291.4 533.12h-2.7M509.28 723.2v2.7M291.4 530.63h-2.7M511.8 723.2v4M291.4 528.4h-4"/>
<g class="tl lg"><text transform="translate(291.7 737.6) scale(.86 1)">10<tspan class="sp" dx="0.6" dy="-4.9">0</tspan></text><text transform="translate(346.8 737.6) scale(.86 1)">10<tspan class="sp" dx="0.6" dy="-4.9">1</tspan></text><text transform="translate(401.9 737.6) scale(.86 1)">10<tspan class="sp" dx="0.6" dy="-4.9">2</tspan></text><text transform="translate(457 737.6) scale(.86 1)">10<tspan class="sp" dx="0.6" dy="-4.9">3</tspan></text><text transform="translate(512.1 737.6) scale(.86 1)">10<tspan class="sp" dx="0.6" dy="-4.9">4</tspan></text><text transform="translate(283.1 723.6) rotate(-90) scale(.86 1)">10<tspan class="sp" dx="0.6" dy="-4.9">0</tspan></text><text transform="translate(283.1 674.9) rotate(-90) scale(.86 1)">10<tspan class="sp" dx="0.6" dy="-4.9">1</tspan></text><text transform="translate(283.1 626.2) rotate(-90) scale(.86 1)">10<tspan class="sp" dx="0.6" dy="-4.9">2</tspan></text><text transform="translate(283.1 577.5) rotate(-90) scale(.86 1)">10<tspan class="sp" dx="0.6" dy="-4.9">3</tspan></text><text transform="translate(283.1 528.8) rotate(-90) scale(.86 1)">10<tspan class="sp" dx="0.6" dy="-4.9">4</tspan></text></g>
<g fill="none" stroke="#000" stroke-width="1.3">
<rect x="62" y="175.5" width="29.7" height="29.5"/>
<rect x="317" y="173.8" width="28.7" height="29.2"/>
<path d="M35.5 448.6L120.5 411.4L125.6 419.2L100.5 487.9"/>
<path d="M292.9 446.2L379.1 411L447.5 311.3V292.2"/><path d="M359.3 487.4L383.2 418.6L379.1 411M383.2 418.6H512.5"/>
<path d="M36.8 683L122.5 648.2L191.4 547V529.4"/><path d="M101.9 723.6L126.8 655.4L122.5 648.2M126.8 655.4H255.4"/>
<path d="M292.2 682.7L378.2 646.6L447 547.5V528.4"/><path d="M358.75 723.2L382.2 654.8L378.2 646.6M382.2 654.8H511.8"/>
</g>
<g class="pl">
<text x="36.8" y="19.3">A</text>
<text x="288.2" y="18.4">B</text>
<text x="34.9" y="284.6">C</text>
<text x="290.3" y="285.6">D</text>
<text x="33" y="524.7">E</text>
<text x="289.3" y="525.9">F</text>
</g>
<g class="pc">
<text transform="translate(148.6 198.2) scale(1.04 1)">13%</text>
<text transform="translate(355.9 310.3) scale(1.04 1)">14%</text>
<text transform="translate(481.8 310.3) scale(1.04 1)">1%</text>
<text transform="translate(470.3 482.3) scale(1.04 1)">2.6%</text>
<text transform="translate(90.5 545.2) scale(1.04 1)">19%</text>
<text transform="translate(445.4 644) scale(1.04 1)">25%</text>
</g>
<path d="M457 647V664" stroke="#000" stroke-width="1.2"/><path d="M454 662L457 670L460 662Z" fill="#000"/>
<g class="ax">
<text x="167.6" y="253" style="font-size:17.6px">Hoechst 33342</text>
<text transform="translate(20 154) rotate(-90)">PyroninY</text>
<text x="169.2" y="754.5" style="font-size:17.8px">MFGS-GFP Expression</text>
<text transform="translate(16 626) rotate(-90)">Lenti-CFP Expression</text>
</g>
<path d="M282.7 245.5H319" stroke="#000" stroke-width="2.2"/><path d="M317 240.6L336.5 245.5L317 250.4Z" fill="#000"/>
<path d="M358.3 749.3H407" stroke="#000" stroke-width="2.2"/><path d="M405 744.2L423.7 749.3L405 754.4Z" fill="#000"/>
<path d="M10.2 453V405" stroke="#000" stroke-width="2"/><path d="M5.7 407L10.2 388.3L14.7 407Z" fill="#000"/>
</svg></body></html>
